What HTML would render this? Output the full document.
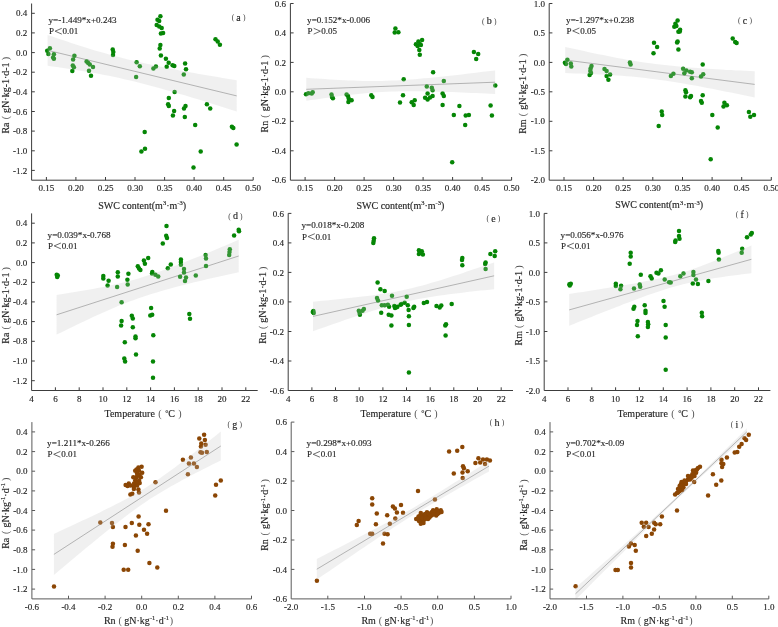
<!DOCTYPE html><html><head><meta charset="utf-8"><style>html,body{margin:0;padding:0;background:#fff;overflow:hidden;}svg{display:block;will-change:transform;}text{font-family:"Liberation Serif",serif;fill:#262626;stroke:#262626;stroke-width:0.15px;}</style></head><body>
<svg width="778" height="627" viewBox="0 0 778 627">
<line x1="47.6" y1="50.3" x2="236.7" y2="95.9" stroke="#8a8a8a" stroke-width="0.7"/>
<g><circle cx="47.2" cy="50.7" r="2.25" fill="#058605"/><circle cx="49.9" cy="48.2" r="2.25" fill="#058605"/><circle cx="48.4" cy="53.9" r="2.25" fill="#058605"/><circle cx="53.9" cy="54.3" r="2.25" fill="#058605"/><circle cx="53.9" cy="58.7" r="2.25" fill="#058605"/><circle cx="53.1" cy="57.4" r="2.25" fill="#058605"/><circle cx="74.4" cy="55.8" r="2.25" fill="#058605"/><circle cx="73.1" cy="59.4" r="2.25" fill="#058605"/><circle cx="72.8" cy="65.4" r="2.25" fill="#058605"/><circle cx="73.9" cy="67.3" r="2.25" fill="#058605"/><circle cx="72.3" cy="71.0" r="2.25" fill="#058605"/><circle cx="86.6" cy="61.4" r="2.25" fill="#058605"/><circle cx="88.2" cy="63.0" r="2.25" fill="#058605"/><circle cx="89.8" cy="64.6" r="2.25" fill="#058605"/><circle cx="93.0" cy="67.0" r="2.25" fill="#058605"/><circle cx="89.0" cy="70.7" r="2.25" fill="#058605"/><circle cx="91.0" cy="75.8" r="2.25" fill="#058605"/><circle cx="112.7" cy="49.5" r="2.25" fill="#058605"/><circle cx="113.3" cy="51.9" r="2.25" fill="#058605"/><circle cx="113.0" cy="55.0" r="2.25" fill="#058605"/><circle cx="136.6" cy="62.2" r="2.25" fill="#058605"/><circle cx="139.8" cy="66.2" r="2.25" fill="#058605"/><circle cx="136.1" cy="76.9" r="2.25" fill="#058605"/><circle cx="160.4" cy="16.2" r="2.25" fill="#058605"/><circle cx="157.5" cy="19.7" r="2.25" fill="#058605"/><circle cx="159.2" cy="20.9" r="2.25" fill="#058605"/><circle cx="156.7" cy="25.1" r="2.25" fill="#058605"/><circle cx="159.2" cy="26.4" r="2.25" fill="#058605"/><circle cx="161.7" cy="28.1" r="2.25" fill="#058605"/><circle cx="160.9" cy="33.4" r="2.25" fill="#058605"/><circle cx="163.1" cy="33.1" r="2.25" fill="#058605"/><circle cx="160.4" cy="45.1" r="2.25" fill="#058605"/><circle cx="159.7" cy="48.5" r="2.25" fill="#058605"/><circle cx="160.9" cy="55.6" r="2.25" fill="#058605"/><circle cx="165.9" cy="58.8" r="2.25" fill="#058605"/><circle cx="168.7" cy="62.7" r="2.25" fill="#058605"/><circle cx="166.7" cy="66.8" r="2.25" fill="#058605"/><circle cx="172.6" cy="65.2" r="2.25" fill="#058605"/><circle cx="174.3" cy="66.0" r="2.25" fill="#058605"/><circle cx="185.1" cy="63.5" r="2.25" fill="#058605"/><circle cx="186.0" cy="69.3" r="2.25" fill="#058605"/><circle cx="183.8" cy="74.4" r="2.25" fill="#058605"/><circle cx="155.9" cy="66.5" r="2.25" fill="#058605"/><circle cx="153.4" cy="68.5" r="2.25" fill="#058605"/><circle cx="215.5" cy="39.3" r="2.25" fill="#058605"/><circle cx="217.7" cy="41.4" r="2.25" fill="#058605"/><circle cx="219.9" cy="44.8" r="2.25" fill="#058605"/><circle cx="174.6" cy="92.0" r="2.25" fill="#058605"/><circle cx="168.8" cy="97.9" r="2.25" fill="#058605"/><circle cx="168.1" cy="104.2" r="2.25" fill="#058605"/><circle cx="168.8" cy="105.9" r="2.25" fill="#058605"/><circle cx="174.1" cy="110.9" r="2.25" fill="#058605"/><circle cx="172.9" cy="115.4" r="2.25" fill="#058605"/><circle cx="185.5" cy="105.9" r="2.25" fill="#058605"/><circle cx="184.0" cy="108.4" r="2.25" fill="#058605"/><circle cx="184.8" cy="117.1" r="2.25" fill="#058605"/><circle cx="206.9" cy="104.2" r="2.25" fill="#058605"/><circle cx="210.2" cy="108.4" r="2.25" fill="#058605"/><circle cx="195.2" cy="125.1" r="2.25" fill="#058605"/><circle cx="231.9" cy="126.8" r="2.25" fill="#058605"/><circle cx="233.3" cy="128.1" r="2.25" fill="#058605"/><circle cx="236.6" cy="144.5" r="2.25" fill="#058605"/><circle cx="144.7" cy="132.1" r="2.25" fill="#058605"/><circle cx="145.0" cy="148.8" r="2.25" fill="#058605"/><circle cx="141.4" cy="151.5" r="2.25" fill="#058605"/><circle cx="200.7" cy="151.5" r="2.25" fill="#058605"/><circle cx="193.5" cy="167.6" r="2.25" fill="#058605"/></g>
<path d="M47.6,34.9 L52.3,36.6 L57.0,38.2 L61.7,39.8 L66.5,41.3 L71.2,42.9 L75.9,44.4 L80.6,46.0 L85.4,47.5 L90.1,48.9 L94.8,50.4 L99.6,51.8 L104.3,53.1 L109.0,54.5 L113.7,55.7 L118.5,57.0 L123.2,58.2 L127.9,59.4 L132.6,60.5 L137.4,61.6 L142.1,62.7 L146.8,63.8 L151.6,64.8 L156.3,65.8 L161.0,66.8 L165.7,67.7 L170.5,68.7 L175.2,69.6 L179.9,70.5 L184.7,71.4 L189.4,72.2 L194.1,73.1 L198.8,73.9 L203.6,74.7 L208.3,75.5 L213.0,76.3 L217.7,77.1 L222.5,77.9 L227.2,78.7 L231.9,79.4 L236.7,80.2 L236.7,111.6 L231.9,110.0 L227.2,108.5 L222.5,107.0 L217.7,105.5 L213.0,104.0 L208.3,102.5 L203.6,101.1 L198.8,99.6 L194.1,98.2 L189.4,96.8 L184.7,95.3 L179.9,93.9 L175.2,92.6 L170.5,91.2 L165.7,89.9 L161.0,88.6 L156.3,87.3 L151.6,86.0 L146.8,84.7 L142.1,83.5 L137.4,82.3 L132.6,81.1 L127.9,80.0 L123.2,78.9 L118.5,77.8 L113.7,76.8 L109.0,75.8 L104.3,74.9 L99.6,74.0 L94.8,73.1 L90.1,72.3 L85.4,71.5 L80.6,70.7 L75.9,69.9 L71.2,69.2 L66.5,68.5 L61.7,67.8 L57.0,67.1 L52.3,66.4 L47.6,65.8 Z" fill="#c3c3c3" fill-opacity="0.25"/>
<path d="M31.6,3.5 V180.2 H253.2" fill="none" stroke="#3c3c3c" stroke-width="1.0"/>
<line x1="46.4" y1="180.2" x2="46.4" y2="177.0" stroke="#3c3c3c" stroke-width="1"/>
<text x="46.4" y="191.2" font-size="9" text-anchor="middle">0.15</text>
<line x1="75.9" y1="180.2" x2="75.9" y2="177.0" stroke="#3c3c3c" stroke-width="1"/>
<text x="75.9" y="191.2" font-size="9" text-anchor="middle">0.20</text>
<line x1="105.5" y1="180.2" x2="105.5" y2="177.0" stroke="#3c3c3c" stroke-width="1"/>
<text x="105.5" y="191.2" font-size="9" text-anchor="middle">0.25</text>
<line x1="135.0" y1="180.2" x2="135.0" y2="177.0" stroke="#3c3c3c" stroke-width="1"/>
<text x="135.0" y="191.2" font-size="9" text-anchor="middle">0.30</text>
<line x1="164.6" y1="180.2" x2="164.6" y2="177.0" stroke="#3c3c3c" stroke-width="1"/>
<text x="164.6" y="191.2" font-size="9" text-anchor="middle">0.35</text>
<line x1="194.1" y1="180.2" x2="194.1" y2="177.0" stroke="#3c3c3c" stroke-width="1"/>
<text x="194.1" y="191.2" font-size="9" text-anchor="middle">0.40</text>
<line x1="223.7" y1="180.2" x2="223.7" y2="177.0" stroke="#3c3c3c" stroke-width="1"/>
<text x="223.7" y="191.2" font-size="9" text-anchor="middle">0.45</text>
<line x1="253.2" y1="180.2" x2="253.2" y2="177.0" stroke="#3c3c3c" stroke-width="1"/>
<text x="253.2" y="191.2" font-size="9" text-anchor="middle">0.50</text>
<line x1="31.6" y1="170.4" x2="34.8" y2="170.4" stroke="#3c3c3c" stroke-width="1"/>
<text x="27.3" y="173.5" font-size="9" text-anchor="end">-1.2</text>
<line x1="31.6" y1="150.8" x2="34.8" y2="150.8" stroke="#3c3c3c" stroke-width="1"/>
<text x="27.3" y="153.8" font-size="9" text-anchor="end">-1.0</text>
<line x1="31.6" y1="131.1" x2="34.8" y2="131.1" stroke="#3c3c3c" stroke-width="1"/>
<text x="27.3" y="134.2" font-size="9" text-anchor="end">-0.8</text>
<line x1="31.6" y1="111.5" x2="34.8" y2="111.5" stroke="#3c3c3c" stroke-width="1"/>
<text x="27.3" y="114.6" font-size="9" text-anchor="end">-0.6</text>
<line x1="31.6" y1="91.8" x2="34.8" y2="91.8" stroke="#3c3c3c" stroke-width="1"/>
<text x="27.3" y="94.9" font-size="9" text-anchor="end">-0.4</text>
<line x1="31.6" y1="72.2" x2="34.8" y2="72.2" stroke="#3c3c3c" stroke-width="1"/>
<text x="27.3" y="75.3" font-size="9" text-anchor="end">-0.2</text>
<line x1="31.6" y1="52.6" x2="34.8" y2="52.6" stroke="#3c3c3c" stroke-width="1"/>
<text x="27.3" y="55.7" font-size="9" text-anchor="end">0.0</text>
<line x1="31.6" y1="32.9" x2="34.8" y2="32.9" stroke="#3c3c3c" stroke-width="1"/>
<text x="27.3" y="36.0" font-size="9" text-anchor="end">0.2</text>
<line x1="31.6" y1="13.3" x2="34.8" y2="13.3" stroke="#3c3c3c" stroke-width="1"/>
<text x="27.3" y="16.4" font-size="9" text-anchor="end">0.4</text>
<text x="98.2" y="208.5" font-size="10">SWC content(m<tspan font-size="6.5" dy="-3.6">3</tspan><tspan dy="3.6">·m</tspan><tspan font-size="6.5" dy="-3.6">-3</tspan><tspan dy="3.6">)</tspan></text>
<text transform="translate(8.7,95.2) rotate(-90)" font-size="10" text-anchor="middle">Ra<tspan dx="3.1" style="fill:#505050;stroke:none">(</tspan><tspan dx="3.1">gN·kg-1·d-1</tspan><tspan dx="2.2" style="fill:#505050;stroke:none">)</tspan></text>
<text x="48.5" y="22.5" font-size="9.15">y=-1.449*x+0.243</text>
<text x="48.9" y="34.3" font-size="9">P</text>
<path d="M61.8,28.3 L55.1,31.2 L61.8,34.1" fill="none" stroke="#3a3a3a" stroke-width="0.75"/>
<text x="62.6" y="34.3" font-size="9">0.01</text>
<text x="238.6" y="20.7" font-size="10" text-anchor="middle"><tspan font-size="7.6" dy="-0.6" style="fill:#404040;stroke:none">(</tspan><tspan dx="2.2" dy="0.6">a</tspan><tspan dx="2.2" dy="-0.6" font-size="7.6" style="fill:#404040;stroke:none">)</tspan></text>
<line x1="306.3" y1="89.3" x2="495.1" y2="82.2" stroke="#8a8a8a" stroke-width="0.7"/>
<g><circle cx="306.0" cy="94.2" r="2.25" fill="#058605"/><circle cx="308.4" cy="93.2" r="2.25" fill="#058605"/><circle cx="311.7" cy="93.6" r="2.25" fill="#058605"/><circle cx="312.7" cy="92.2" r="2.25" fill="#058605"/><circle cx="331.5" cy="94.6" r="2.25" fill="#058605"/><circle cx="332.0" cy="97.0" r="2.25" fill="#058605"/><circle cx="332.9" cy="98.2" r="2.25" fill="#058605"/><circle cx="346.6" cy="94.6" r="2.25" fill="#058605"/><circle cx="348.0" cy="96.1" r="2.25" fill="#058605"/><circle cx="348.7" cy="98.5" r="2.25" fill="#058605"/><circle cx="351.6" cy="100.3" r="2.25" fill="#058605"/><circle cx="348.4" cy="102.1" r="2.25" fill="#058605"/><circle cx="371.3" cy="95.3" r="2.25" fill="#058605"/><circle cx="372.5" cy="97.0" r="2.25" fill="#058605"/><circle cx="395.4" cy="28.4" r="2.25" fill="#058605"/><circle cx="394.7" cy="32.5" r="2.25" fill="#058605"/><circle cx="398.4" cy="32.2" r="2.25" fill="#058605"/><circle cx="422.1" cy="40.1" r="2.25" fill="#058605"/><circle cx="418.4" cy="41.4" r="2.25" fill="#058605"/><circle cx="415.9" cy="44.2" r="2.25" fill="#058605"/><circle cx="420.1" cy="44.2" r="2.25" fill="#058605"/><circle cx="417.6" cy="45.9" r="2.25" fill="#058605"/><circle cx="420.9" cy="45.1" r="2.25" fill="#058605"/><circle cx="419.3" cy="50.1" r="2.25" fill="#058605"/><circle cx="419.8" cy="54.8" r="2.25" fill="#058605"/><circle cx="473.9" cy="52.1" r="2.25" fill="#058605"/><circle cx="478.2" cy="53.9" r="2.25" fill="#058605"/><circle cx="476.2" cy="59.0" r="2.25" fill="#058605"/><circle cx="433.1" cy="72.3" r="2.25" fill="#058605"/><circle cx="403.7" cy="79.3" r="2.25" fill="#058605"/><circle cx="443.8" cy="81.0" r="2.25" fill="#058605"/><circle cx="426.8" cy="86.5" r="2.25" fill="#058605"/><circle cx="431.8" cy="87.7" r="2.25" fill="#058605"/><circle cx="432.6" cy="90.2" r="2.25" fill="#058605"/><circle cx="495.3" cy="85.5" r="2.25" fill="#058605"/><circle cx="403.0" cy="95.2" r="2.25" fill="#058605"/><circle cx="400.0" cy="102.6" r="2.25" fill="#058605"/><circle cx="411.7" cy="102.2" r="2.25" fill="#058605"/><circle cx="414.7" cy="100.2" r="2.25" fill="#058605"/><circle cx="413.7" cy="104.9" r="2.25" fill="#058605"/><circle cx="427.6" cy="93.5" r="2.25" fill="#058605"/><circle cx="425.1" cy="97.7" r="2.25" fill="#058605"/><circle cx="427.6" cy="99.4" r="2.25" fill="#058605"/><circle cx="432.6" cy="96.0" r="2.25" fill="#058605"/><circle cx="430.0" cy="97.5" r="2.25" fill="#058605"/><circle cx="442.6" cy="93.5" r="2.25" fill="#058605"/><circle cx="443.8" cy="96.0" r="2.25" fill="#058605"/><circle cx="442.6" cy="104.9" r="2.25" fill="#058605"/><circle cx="459.4" cy="106.1" r="2.25" fill="#058605"/><circle cx="490.6" cy="105.6" r="2.25" fill="#058605"/><circle cx="453.8" cy="115.1" r="2.25" fill="#058605"/><circle cx="465.7" cy="115.4" r="2.25" fill="#058605"/><circle cx="468.9" cy="115.1" r="2.25" fill="#058605"/><circle cx="491.9" cy="115.4" r="2.25" fill="#058605"/><circle cx="465.2" cy="125.1" r="2.25" fill="#058605"/><circle cx="452.2" cy="162.2" r="2.25" fill="#058605"/></g>
<path d="M306.3,77.8 L311.0,78.2 L315.8,78.5 L320.5,78.8 L325.2,79.1 L329.9,79.4 L334.6,79.7 L339.4,80.0 L344.1,80.2 L348.8,80.4 L353.5,80.6 L358.2,80.8 L363.0,80.9 L367.7,81.0 L372.4,81.1 L377.1,81.0 L381.8,81.0 L386.5,80.8 L391.3,80.6 L396.0,80.4 L400.7,80.2 L405.4,79.9 L410.1,79.5 L414.9,79.2 L419.6,78.8 L424.3,78.3 L429.0,77.9 L433.7,77.4 L438.5,77.0 L443.2,76.5 L447.9,76.0 L452.6,75.4 L457.3,74.9 L462.1,74.4 L466.8,73.8 L471.5,73.3 L476.2,72.7 L480.9,72.1 L485.6,71.6 L490.4,71.0 L495.1,70.4 L495.1,93.9 L490.4,93.7 L485.6,93.5 L480.9,93.3 L476.2,93.1 L471.5,92.9 L466.8,92.7 L462.1,92.5 L457.3,92.3 L452.6,92.1 L447.9,92.0 L443.2,91.8 L438.5,91.7 L433.7,91.5 L429.0,91.4 L424.3,91.4 L419.6,91.3 L414.9,91.3 L410.1,91.3 L405.4,91.3 L400.7,91.3 L396.0,91.4 L391.3,91.6 L386.5,91.7 L381.8,92.0 L377.1,92.3 L372.4,92.6 L367.7,93.0 L363.0,93.4 L358.2,93.9 L353.5,94.5 L348.8,95.0 L344.1,95.6 L339.4,96.2 L334.6,96.8 L329.9,97.4 L325.2,98.1 L320.5,98.8 L315.8,99.4 L311.0,100.1 L306.3,100.8 Z" fill="#c3c3c3" fill-opacity="0.25"/>
<path d="M290.4,3.5 V180.2 H511.6" fill="none" stroke="#3c3c3c" stroke-width="1.0"/>
<line x1="305.1" y1="180.2" x2="305.1" y2="177.0" stroke="#3c3c3c" stroke-width="1"/>
<text x="305.1" y="191.2" font-size="9" text-anchor="middle">0.15</text>
<line x1="334.6" y1="180.2" x2="334.6" y2="177.0" stroke="#3c3c3c" stroke-width="1"/>
<text x="334.6" y="191.2" font-size="9" text-anchor="middle">0.20</text>
<line x1="364.1" y1="180.2" x2="364.1" y2="177.0" stroke="#3c3c3c" stroke-width="1"/>
<text x="364.1" y="191.2" font-size="9" text-anchor="middle">0.25</text>
<line x1="393.6" y1="180.2" x2="393.6" y2="177.0" stroke="#3c3c3c" stroke-width="1"/>
<text x="393.6" y="191.2" font-size="9" text-anchor="middle">0.30</text>
<line x1="423.1" y1="180.2" x2="423.1" y2="177.0" stroke="#3c3c3c" stroke-width="1"/>
<text x="423.1" y="191.2" font-size="9" text-anchor="middle">0.35</text>
<line x1="452.6" y1="180.2" x2="452.6" y2="177.0" stroke="#3c3c3c" stroke-width="1"/>
<text x="452.6" y="191.2" font-size="9" text-anchor="middle">0.40</text>
<line x1="482.1" y1="180.2" x2="482.1" y2="177.0" stroke="#3c3c3c" stroke-width="1"/>
<text x="482.1" y="191.2" font-size="9" text-anchor="middle">0.45</text>
<line x1="511.6" y1="180.2" x2="511.6" y2="177.0" stroke="#3c3c3c" stroke-width="1"/>
<text x="511.6" y="191.2" font-size="9" text-anchor="middle">0.50</text>
<text x="286.1" y="183.3" font-size="9" text-anchor="end">-0.6</text>
<line x1="290.4" y1="150.8" x2="293.6" y2="150.8" stroke="#3c3c3c" stroke-width="1"/>
<text x="286.1" y="153.8" font-size="9" text-anchor="end">-0.4</text>
<line x1="290.4" y1="121.3" x2="293.6" y2="121.3" stroke="#3c3c3c" stroke-width="1"/>
<text x="286.1" y="124.4" font-size="9" text-anchor="end">-0.2</text>
<line x1="290.4" y1="91.8" x2="293.6" y2="91.8" stroke="#3c3c3c" stroke-width="1"/>
<text x="286.1" y="94.9" font-size="9" text-anchor="end">0.0</text>
<line x1="290.4" y1="62.4" x2="293.6" y2="62.4" stroke="#3c3c3c" stroke-width="1"/>
<text x="286.1" y="65.5" font-size="9" text-anchor="end">0.2</text>
<line x1="290.4" y1="32.9" x2="293.6" y2="32.9" stroke="#3c3c3c" stroke-width="1"/>
<text x="286.1" y="36.0" font-size="9" text-anchor="end">0.4</text>
<line x1="290.4" y1="3.5" x2="293.6" y2="3.5" stroke="#3c3c3c" stroke-width="1"/>
<text x="286.1" y="6.6" font-size="9" text-anchor="end">0.6</text>
<text x="356.5" y="208.5" font-size="10">SWC content(m<tspan font-size="6.5" dy="-3.6">3</tspan><tspan dy="3.6">·m</tspan><tspan font-size="6.5" dy="-3.6">-3</tspan><tspan dy="3.6">)</tspan></text>
<text transform="translate(267.7,93.8) rotate(-90)" font-size="10" text-anchor="middle">Rn<tspan dx="3.1" style="fill:#505050;stroke:none">(</tspan><tspan dx="3.1">gN·kg-1·d-1</tspan><tspan dx="2.2" style="fill:#505050;stroke:none">)</tspan></text>
<text x="307.1" y="23.0" font-size="9.15">y=0.152*x-0.006</text>
<text x="307.5" y="34.3" font-size="9">P</text>
<path d="M313.7,28.3 L320.4,31.2 L313.7,34.1" fill="none" stroke="#3a3a3a" stroke-width="0.75"/>
<text x="321.2" y="34.3" font-size="9">0.05</text>
<text x="489.3" y="24.4" font-size="10" text-anchor="middle"><tspan font-size="7.6" dy="-0.6" style="fill:#404040;stroke:none">(</tspan><tspan dx="2.2" dy="0.6">b</tspan><tspan dx="2.2" dy="-0.6" font-size="7.6" style="fill:#404040;stroke:none">)</tspan></text>
<line x1="565.2" y1="60.0" x2="754.7" y2="84.4" stroke="#8a8a8a" stroke-width="0.7"/>
<g><circle cx="564.9" cy="62.8" r="2.25" fill="#058605"/><circle cx="567.4" cy="59.7" r="2.25" fill="#058605"/><circle cx="566.0" cy="63.9" r="2.25" fill="#058605"/><circle cx="570.8" cy="63.6" r="2.25" fill="#058605"/><circle cx="571.3" cy="66.5" r="2.25" fill="#058605"/><circle cx="591.5" cy="66.1" r="2.25" fill="#058605"/><circle cx="590.6" cy="68.5" r="2.25" fill="#058605"/><circle cx="590.3" cy="71.0" r="2.25" fill="#058605"/><circle cx="591.0" cy="73.1" r="2.25" fill="#058605"/><circle cx="589.6" cy="75.0" r="2.25" fill="#058605"/><circle cx="604.5" cy="68.9" r="2.25" fill="#058605"/><circle cx="606.6" cy="71.0" r="2.25" fill="#058605"/><circle cx="610.1" cy="74.5" r="2.25" fill="#058605"/><circle cx="606.6" cy="76.0" r="2.25" fill="#058605"/><circle cx="608.4" cy="79.8" r="2.25" fill="#058605"/><circle cx="629.9" cy="62.5" r="2.25" fill="#058605"/><circle cx="630.6" cy="64.6" r="2.25" fill="#058605"/><circle cx="654.0" cy="42.7" r="2.25" fill="#058605"/><circle cx="657.1" cy="47.0" r="2.25" fill="#058605"/><circle cx="653.5" cy="53.3" r="2.25" fill="#058605"/><circle cx="677.6" cy="20.4" r="2.25" fill="#058605"/><circle cx="675.4" cy="23.7" r="2.25" fill="#058605"/><circle cx="674.3" cy="26.7" r="2.25" fill="#058605"/><circle cx="676.4" cy="25.9" r="2.25" fill="#058605"/><circle cx="680.1" cy="29.7" r="2.25" fill="#058605"/><circle cx="678.4" cy="31.7" r="2.25" fill="#058605"/><circle cx="679.8" cy="31.4" r="2.25" fill="#058605"/><circle cx="677.6" cy="41.4" r="2.25" fill="#058605"/><circle cx="677.1" cy="42.6" r="2.25" fill="#058605"/><circle cx="678.4" cy="49.6" r="2.25" fill="#058605"/><circle cx="732.7" cy="38.4" r="2.25" fill="#058605"/><circle cx="735.2" cy="42.1" r="2.25" fill="#058605"/><circle cx="736.6" cy="42.9" r="2.25" fill="#058605"/><circle cx="702.7" cy="64.6" r="2.25" fill="#058605"/><circle cx="683.1" cy="68.8" r="2.25" fill="#058605"/><circle cx="686.4" cy="70.5" r="2.25" fill="#058605"/><circle cx="690.1" cy="71.8" r="2.25" fill="#058605"/><circle cx="691.8" cy="72.2" r="2.25" fill="#058605"/><circle cx="684.3" cy="73.2" r="2.25" fill="#058605"/><circle cx="691.8" cy="78.2" r="2.25" fill="#058605"/><circle cx="673.4" cy="73.8" r="2.25" fill="#058605"/><circle cx="670.9" cy="76.0" r="2.25" fill="#058605"/><circle cx="703.2" cy="74.3" r="2.25" fill="#058605"/><circle cx="701.0" cy="76.5" r="2.25" fill="#058605"/><circle cx="685.4" cy="90.2" r="2.25" fill="#058605"/><circle cx="686.0" cy="92.2" r="2.25" fill="#058605"/><circle cx="685.4" cy="96.6" r="2.25" fill="#058605"/><circle cx="690.1" cy="97.2" r="2.25" fill="#058605"/><circle cx="691.0" cy="96.0" r="2.25" fill="#058605"/><circle cx="702.7" cy="95.2" r="2.25" fill="#058605"/><circle cx="701.0" cy="101.1" r="2.25" fill="#058605"/><circle cx="701.8" cy="102.7" r="2.25" fill="#058605"/><circle cx="724.4" cy="102.7" r="2.25" fill="#058605"/><circle cx="726.9" cy="105.2" r="2.25" fill="#058605"/><circle cx="723.5" cy="106.6" r="2.25" fill="#058605"/><circle cx="661.7" cy="111.4" r="2.25" fill="#058605"/><circle cx="662.2" cy="115.1" r="2.25" fill="#058605"/><circle cx="658.7" cy="125.9" r="2.25" fill="#058605"/><circle cx="712.3" cy="115.1" r="2.25" fill="#058605"/><circle cx="717.7" cy="127.6" r="2.25" fill="#058605"/><circle cx="748.9" cy="112.1" r="2.25" fill="#058605"/><circle cx="750.3" cy="116.7" r="2.25" fill="#058605"/><circle cx="754.0" cy="115.1" r="2.25" fill="#058605"/><circle cx="710.7" cy="159.3" r="2.25" fill="#058605"/></g>
<path d="M565.2,46.9 L569.9,48.0 L574.7,49.1 L579.4,50.1 L584.1,51.1 L588.9,52.2 L593.6,53.2 L598.4,54.2 L603.1,55.1 L607.8,56.1 L612.6,57.0 L617.3,57.9 L622.0,58.8 L626.8,59.7 L631.5,60.5 L636.3,61.2 L641.0,62.0 L645.7,62.7 L650.5,63.3 L655.2,63.9 L660.0,64.5 L664.7,65.1 L669.4,65.6 L674.2,66.1 L678.9,66.5 L683.6,67.0 L688.4,67.4 L693.1,67.7 L697.9,68.1 L702.6,68.4 L707.3,68.8 L712.1,69.1 L716.8,69.3 L721.5,69.6 L726.3,69.9 L731.0,70.1 L735.8,70.4 L740.5,70.6 L745.2,70.8 L750.0,71.0 L754.7,71.2 L754.7,97.6 L750.0,96.6 L745.2,95.6 L740.5,94.6 L735.8,93.6 L731.0,92.6 L726.3,91.7 L721.5,90.7 L716.8,89.8 L712.1,88.8 L707.3,87.9 L702.6,87.0 L697.9,86.1 L693.1,85.3 L688.4,84.4 L683.6,83.6 L678.9,82.8 L674.2,82.0 L669.4,81.3 L664.7,80.6 L660.0,79.9 L655.2,79.3 L650.5,78.7 L645.7,78.1 L641.0,77.6 L636.3,77.1 L631.5,76.6 L626.8,76.2 L622.0,75.8 L617.3,75.5 L612.6,75.2 L607.8,74.9 L603.1,74.6 L598.4,74.4 L593.6,74.1 L588.9,73.9 L584.1,73.7 L579.4,73.6 L574.7,73.4 L569.9,73.2 L565.2,73.1 Z" fill="#c3c3c3" fill-opacity="0.25"/>
<path d="M549.2,3.5 V180.2 H771.3" fill="none" stroke="#3c3c3c" stroke-width="1.0"/>
<line x1="564.0" y1="180.2" x2="564.0" y2="177.0" stroke="#3c3c3c" stroke-width="1"/>
<text x="564.0" y="191.2" font-size="9" text-anchor="middle">0.15</text>
<line x1="593.6" y1="180.2" x2="593.6" y2="177.0" stroke="#3c3c3c" stroke-width="1"/>
<text x="593.6" y="191.2" font-size="9" text-anchor="middle">0.20</text>
<line x1="623.2" y1="180.2" x2="623.2" y2="177.0" stroke="#3c3c3c" stroke-width="1"/>
<text x="623.2" y="191.2" font-size="9" text-anchor="middle">0.25</text>
<line x1="652.8" y1="180.2" x2="652.8" y2="177.0" stroke="#3c3c3c" stroke-width="1"/>
<text x="652.8" y="191.2" font-size="9" text-anchor="middle">0.30</text>
<line x1="682.5" y1="180.2" x2="682.5" y2="177.0" stroke="#3c3c3c" stroke-width="1"/>
<text x="682.5" y="191.2" font-size="9" text-anchor="middle">0.35</text>
<line x1="712.1" y1="180.2" x2="712.1" y2="177.0" stroke="#3c3c3c" stroke-width="1"/>
<text x="712.1" y="191.2" font-size="9" text-anchor="middle">0.40</text>
<line x1="741.7" y1="180.2" x2="741.7" y2="177.0" stroke="#3c3c3c" stroke-width="1"/>
<text x="741.7" y="191.2" font-size="9" text-anchor="middle">0.45</text>
<line x1="771.3" y1="180.2" x2="771.3" y2="177.0" stroke="#3c3c3c" stroke-width="1"/>
<text x="771.3" y="191.2" font-size="9" text-anchor="middle">0.50</text>
<text x="544.9" y="183.3" font-size="9" text-anchor="end">-2.0</text>
<line x1="549.2" y1="150.8" x2="552.4" y2="150.8" stroke="#3c3c3c" stroke-width="1"/>
<text x="544.9" y="153.8" font-size="9" text-anchor="end">-1.5</text>
<line x1="549.2" y1="121.3" x2="552.4" y2="121.3" stroke="#3c3c3c" stroke-width="1"/>
<text x="544.9" y="124.4" font-size="9" text-anchor="end">-1.0</text>
<line x1="549.2" y1="91.8" x2="552.4" y2="91.8" stroke="#3c3c3c" stroke-width="1"/>
<text x="544.9" y="94.9" font-size="9" text-anchor="end">-0.5</text>
<line x1="549.2" y1="62.4" x2="552.4" y2="62.4" stroke="#3c3c3c" stroke-width="1"/>
<text x="544.9" y="65.5" font-size="9" text-anchor="end">0.0</text>
<line x1="549.2" y1="32.9" x2="552.4" y2="32.9" stroke="#3c3c3c" stroke-width="1"/>
<text x="544.9" y="36.0" font-size="9" text-anchor="end">0.5</text>
<line x1="549.2" y1="3.5" x2="552.4" y2="3.5" stroke="#3c3c3c" stroke-width="1"/>
<text x="544.9" y="6.6" font-size="9" text-anchor="end">1.0</text>
<text x="615.2" y="208.3" font-size="10">SWC content(m<tspan font-size="6.5" dy="-3.6">3</tspan><tspan dy="3.6">·m</tspan><tspan font-size="6.5" dy="-3.6">-3</tspan><tspan dy="3.6">)</tspan></text>
<text transform="translate(526.2,93.8) rotate(-90)" font-size="10" text-anchor="middle">Rm<tspan dx="3.1" style="fill:#505050;stroke:none">(</tspan><tspan dx="3.1">gN·kg-1·d-1</tspan><tspan dx="2.2" style="fill:#505050;stroke:none">)</tspan></text>
<text x="566.1" y="22.7" font-size="9.15">y=-1.297*x+0.238</text>
<text x="566.5" y="34.0" font-size="9">P</text>
<path d="M579.4,28.0 L572.7,30.9 L579.4,33.8" fill="none" stroke="#3a3a3a" stroke-width="0.75"/>
<text x="580.2" y="34.0" font-size="9">0.05</text>
<text x="745.0" y="23.8" font-size="10" text-anchor="middle"><tspan font-size="7.6" dy="-0.6" style="fill:#404040;stroke:none">(</tspan><tspan dx="2.2" dy="0.6">c</tspan><tspan dx="2.2" dy="-0.6" font-size="7.6" style="fill:#404040;stroke:none">)</tspan></text>
<line x1="56.6" y1="314.8" x2="238.7" y2="256.0" stroke="#8a8a8a" stroke-width="0.7"/>
<g><circle cx="56.7" cy="274.7" r="2.25" fill="#058605"/><circle cx="57.2" cy="276.9" r="2.25" fill="#058605"/><circle cx="57.8" cy="275.5" r="2.25" fill="#058605"/><circle cx="103.3" cy="276.1" r="2.25" fill="#058605"/><circle cx="103.3" cy="278.6" r="2.25" fill="#058605"/><circle cx="108.6" cy="280.7" r="2.25" fill="#058605"/><circle cx="107.6" cy="285.4" r="2.25" fill="#058605"/><circle cx="117.8" cy="272.3" r="2.25" fill="#058605"/><circle cx="117.8" cy="276.5" r="2.25" fill="#058605"/><circle cx="117.1" cy="287.1" r="2.25" fill="#058605"/><circle cx="128.4" cy="273.7" r="2.25" fill="#058605"/><circle cx="127.4" cy="279.8" r="2.25" fill="#058605"/><circle cx="127.7" cy="284.6" r="2.25" fill="#058605"/><circle cx="137.8" cy="266.2" r="2.25" fill="#058605"/><circle cx="139.0" cy="268.4" r="2.25" fill="#058605"/><circle cx="140.4" cy="269.9" r="2.25" fill="#058605"/><circle cx="143.9" cy="260.5" r="2.25" fill="#058605"/><circle cx="144.9" cy="263.8" r="2.25" fill="#058605"/><circle cx="148.2" cy="258.1" r="2.25" fill="#058605"/><circle cx="166.5" cy="226.1" r="2.25" fill="#058605"/><circle cx="166.2" cy="235.8" r="2.25" fill="#058605"/><circle cx="167.0" cy="238.1" r="2.25" fill="#058605"/><circle cx="162.8" cy="243.5" r="2.25" fill="#058605"/><circle cx="152.3" cy="272.1" r="2.25" fill="#058605"/><circle cx="152.0" cy="273.6" r="2.25" fill="#058605"/><circle cx="155.4" cy="274.8" r="2.25" fill="#058605"/><circle cx="158.2" cy="276.4" r="2.25" fill="#058605"/><circle cx="170.8" cy="264.4" r="2.25" fill="#058605"/><circle cx="167.8" cy="268.2" r="2.25" fill="#058605"/><circle cx="180.9" cy="259.4" r="2.25" fill="#058605"/><circle cx="180.9" cy="262.0" r="2.25" fill="#058605"/><circle cx="180.9" cy="264.7" r="2.25" fill="#058605"/><circle cx="184.0" cy="269.0" r="2.25" fill="#058605"/><circle cx="184.0" cy="272.4" r="2.25" fill="#058605"/><circle cx="180.1" cy="276.7" r="2.25" fill="#058605"/><circle cx="186.0" cy="277.5" r="2.25" fill="#058605"/><circle cx="185.0" cy="281.0" r="2.25" fill="#058605"/><circle cx="195.8" cy="275.5" r="2.25" fill="#058605"/><circle cx="205.6" cy="255.1" r="2.25" fill="#058605"/><circle cx="206.0" cy="258.5" r="2.25" fill="#058605"/><circle cx="206.0" cy="265.9" r="2.25" fill="#058605"/><circle cx="229.8" cy="249.2" r="2.25" fill="#058605"/><circle cx="229.5" cy="252.0" r="2.25" fill="#058605"/><circle cx="229.2" cy="255.1" r="2.25" fill="#058605"/><circle cx="234.1" cy="235.4" r="2.25" fill="#058605"/><circle cx="238.7" cy="229.7" r="2.25" fill="#058605"/><circle cx="239.0" cy="231.2" r="2.25" fill="#058605"/><circle cx="121.6" cy="302.3" r="2.25" fill="#058605"/><circle cx="131.8" cy="315.8" r="2.25" fill="#058605"/><circle cx="132.8" cy="318.4" r="2.25" fill="#058605"/><circle cx="121.6" cy="321.1" r="2.25" fill="#058605"/><circle cx="121.1" cy="325.4" r="2.25" fill="#058605"/><circle cx="132.8" cy="327.2" r="2.25" fill="#058605"/><circle cx="135.5" cy="336.6" r="2.25" fill="#058605"/><circle cx="135.5" cy="338.2" r="2.25" fill="#058605"/><circle cx="124.8" cy="342.3" r="2.25" fill="#058605"/><circle cx="136.0" cy="354.6" r="2.25" fill="#058605"/><circle cx="124.3" cy="358.6" r="2.25" fill="#058605"/><circle cx="125.1" cy="361.5" r="2.25" fill="#058605"/><circle cx="151.1" cy="307.9" r="2.25" fill="#058605"/><circle cx="150.3" cy="315.5" r="2.25" fill="#058605"/><circle cx="152.2" cy="314.7" r="2.25" fill="#058605"/><circle cx="153.3" cy="335.3" r="2.25" fill="#058605"/><circle cx="153.0" cy="361.5" r="2.25" fill="#058605"/><circle cx="153.0" cy="377.8" r="2.25" fill="#058605"/><circle cx="189.3" cy="313.9" r="2.25" fill="#058605"/><circle cx="190.0" cy="318.7" r="2.25" fill="#058605"/></g>
<path d="M56.6,294.9 L61.1,294.2 L65.7,293.5 L70.2,292.7 L74.8,292.0 L79.3,291.3 L83.9,290.5 L88.5,289.7 L93.0,288.9 L97.6,288.0 L102.1,287.2 L106.7,286.3 L111.2,285.3 L115.8,284.3 L120.3,283.3 L124.9,282.2 L129.4,281.0 L134.0,279.7 L138.5,278.4 L143.1,277.0 L147.6,275.5 L152.2,274.0 L156.7,272.5 L161.3,270.9 L165.8,269.3 L170.4,267.6 L174.9,265.9 L179.5,264.2 L184.0,262.4 L188.6,260.6 L193.1,258.8 L197.7,257.0 L202.2,255.2 L206.8,253.3 L211.3,251.4 L215.9,249.5 L220.5,247.6 L225.0,245.7 L229.6,243.7 L234.1,241.8 L238.7,239.8 L238.7,272.3 L234.1,273.3 L229.6,274.2 L225.0,275.2 L220.5,276.2 L215.9,277.3 L211.3,278.3 L206.8,279.3 L202.2,280.4 L197.7,281.5 L193.1,282.6 L188.6,283.7 L184.0,284.9 L179.5,286.1 L174.9,287.3 L170.4,288.5 L165.8,289.8 L161.3,291.1 L156.7,292.4 L152.2,293.8 L147.6,295.2 L143.1,296.7 L138.5,298.2 L134.0,299.9 L129.4,301.5 L124.9,303.3 L120.3,305.1 L115.8,307.0 L111.2,309.0 L106.7,310.9 L102.1,313.0 L97.6,315.0 L93.0,317.1 L88.5,319.2 L83.9,321.4 L79.3,323.6 L74.8,325.7 L70.2,327.9 L65.7,330.2 L61.1,332.4 L56.6,334.6 Z" fill="#c3c3c3" fill-opacity="0.25"/>
<path d="M31.6,213.4 V390.5 H257.7" fill="none" stroke="#3c3c3c" stroke-width="1.0"/>
<text x="31.6" y="401.5" font-size="9" text-anchor="middle">4</text>
<line x1="55.4" y1="390.5" x2="55.4" y2="387.3" stroke="#3c3c3c" stroke-width="1"/>
<text x="55.4" y="401.5" font-size="9" text-anchor="middle">6</text>
<line x1="79.2" y1="390.5" x2="79.2" y2="387.3" stroke="#3c3c3c" stroke-width="1"/>
<text x="79.2" y="401.5" font-size="9" text-anchor="middle">8</text>
<line x1="103.0" y1="390.5" x2="103.0" y2="387.3" stroke="#3c3c3c" stroke-width="1"/>
<text x="103.0" y="401.5" font-size="9" text-anchor="middle">10</text>
<line x1="126.8" y1="390.5" x2="126.8" y2="387.3" stroke="#3c3c3c" stroke-width="1"/>
<text x="126.8" y="401.5" font-size="9" text-anchor="middle">12</text>
<line x1="150.6" y1="390.5" x2="150.6" y2="387.3" stroke="#3c3c3c" stroke-width="1"/>
<text x="150.6" y="401.5" font-size="9" text-anchor="middle">14</text>
<line x1="174.4" y1="390.5" x2="174.4" y2="387.3" stroke="#3c3c3c" stroke-width="1"/>
<text x="174.4" y="401.5" font-size="9" text-anchor="middle">16</text>
<line x1="198.2" y1="390.5" x2="198.2" y2="387.3" stroke="#3c3c3c" stroke-width="1"/>
<text x="198.2" y="401.5" font-size="9" text-anchor="middle">18</text>
<line x1="222.0" y1="390.5" x2="222.0" y2="387.3" stroke="#3c3c3c" stroke-width="1"/>
<text x="222.0" y="401.5" font-size="9" text-anchor="middle">20</text>
<line x1="245.8" y1="390.5" x2="245.8" y2="387.3" stroke="#3c3c3c" stroke-width="1"/>
<text x="245.8" y="401.5" font-size="9" text-anchor="middle">22</text>
<line x1="31.6" y1="380.7" x2="34.8" y2="380.7" stroke="#3c3c3c" stroke-width="1"/>
<text x="27.3" y="383.8" font-size="9" text-anchor="end">-1.2</text>
<line x1="31.6" y1="361.0" x2="34.8" y2="361.0" stroke="#3c3c3c" stroke-width="1"/>
<text x="27.3" y="364.1" font-size="9" text-anchor="end">-1.0</text>
<line x1="31.6" y1="341.3" x2="34.8" y2="341.3" stroke="#3c3c3c" stroke-width="1"/>
<text x="27.3" y="344.4" font-size="9" text-anchor="end">-0.8</text>
<line x1="31.6" y1="321.6" x2="34.8" y2="321.6" stroke="#3c3c3c" stroke-width="1"/>
<text x="27.3" y="324.7" font-size="9" text-anchor="end">-0.6</text>
<line x1="31.6" y1="301.9" x2="34.8" y2="301.9" stroke="#3c3c3c" stroke-width="1"/>
<text x="27.3" y="305.1" font-size="9" text-anchor="end">-0.4</text>
<line x1="31.6" y1="282.3" x2="34.8" y2="282.3" stroke="#3c3c3c" stroke-width="1"/>
<text x="27.3" y="285.4" font-size="9" text-anchor="end">-0.2</text>
<line x1="31.6" y1="262.6" x2="34.8" y2="262.6" stroke="#3c3c3c" stroke-width="1"/>
<text x="27.3" y="265.7" font-size="9" text-anchor="end">0.0</text>
<line x1="31.6" y1="242.9" x2="34.8" y2="242.9" stroke="#3c3c3c" stroke-width="1"/>
<text x="27.3" y="246.0" font-size="9" text-anchor="end">0.2</text>
<line x1="31.6" y1="223.2" x2="34.8" y2="223.2" stroke="#3c3c3c" stroke-width="1"/>
<text x="27.3" y="226.3" font-size="9" text-anchor="end">0.4</text>
<text x="104.5" y="417.2" font-size="10">Temperature<tspan dx="3.3" style="fill:#505050;stroke:none">(</tspan><tspan dx="3.6" font-size="8" dy="-1.2">°</tspan><tspan dy="1.2">C</tspan><tspan dx="3.2" style="fill:#505050;stroke:none">)</tspan></text>
<text transform="translate(9.4,305.4) rotate(-90)" font-size="10" text-anchor="middle">Ra<tspan dx="3.1" style="fill:#505050;stroke:none">(</tspan><tspan dx="3.1">gN·kg-1·d-1</tspan><tspan dx="2.2" style="fill:#505050;stroke:none">)</tspan></text>
<text x="47.6" y="237.6" font-size="9.15">y=0.039*x-0.768</text>
<text x="48.0" y="249.0" font-size="9">P</text>
<path d="M60.9,243.0 L54.2,245.9 L60.9,248.8" fill="none" stroke="#3a3a3a" stroke-width="0.75"/>
<text x="61.7" y="249.0" font-size="9">0.01</text>
<text x="235.4" y="219.3" font-size="10" text-anchor="middle"><tspan font-size="7.6" dy="-0.6" style="fill:#404040;stroke:none">(</tspan><tspan dx="2.2" dy="0.6">d</tspan><tspan dx="2.2" dy="-0.6" font-size="7.6" style="fill:#404040;stroke:none">)</tspan></text>
<line x1="313.0" y1="316.4" x2="494.1" y2="275.8" stroke="#8a8a8a" stroke-width="0.7"/>
<g><circle cx="313.4" cy="311.1" r="2.25" fill="#058605"/><circle cx="313.7" cy="313.0" r="2.25" fill="#058605"/><circle cx="312.8" cy="312.0" r="2.25" fill="#058605"/><circle cx="358.8" cy="310.7" r="2.25" fill="#058605"/><circle cx="359.9" cy="314.7" r="2.25" fill="#058605"/><circle cx="363.9" cy="309.1" r="2.25" fill="#058605"/><circle cx="362.5" cy="310.7" r="2.25" fill="#058605"/><circle cx="359.6" cy="313.0" r="2.25" fill="#058605"/><circle cx="374.0" cy="238.3" r="2.25" fill="#058605"/><circle cx="373.3" cy="242.9" r="2.25" fill="#058605"/><circle cx="373.7" cy="240.8" r="2.25" fill="#058605"/><circle cx="377.6" cy="282.4" r="2.25" fill="#058605"/><circle cx="380.4" cy="289.3" r="2.25" fill="#058605"/><circle cx="384.7" cy="291.0" r="2.25" fill="#058605"/><circle cx="392.0" cy="295.8" r="2.25" fill="#058605"/><circle cx="377.0" cy="298.0" r="2.25" fill="#058605"/><circle cx="378.0" cy="300.4" r="2.25" fill="#058605"/><circle cx="381.8" cy="305.2" r="2.25" fill="#058605"/><circle cx="384.7" cy="305.2" r="2.25" fill="#058605"/><circle cx="387.9" cy="304.7" r="2.25" fill="#058605"/><circle cx="389.1" cy="306.8" r="2.25" fill="#058605"/><circle cx="394.3" cy="306.0" r="2.25" fill="#058605"/><circle cx="395.0" cy="307.9" r="2.25" fill="#058605"/><circle cx="397.4" cy="306.8" r="2.25" fill="#058605"/><circle cx="400.6" cy="304.7" r="2.25" fill="#058605"/><circle cx="404.6" cy="302.8" r="2.25" fill="#058605"/><circle cx="407.8" cy="305.2" r="2.25" fill="#058605"/><circle cx="408.6" cy="310.0" r="2.25" fill="#058605"/><circle cx="414.2" cy="306.8" r="2.25" fill="#058605"/><circle cx="413.4" cy="308.0" r="2.25" fill="#058605"/><circle cx="406.7" cy="296.7" r="2.25" fill="#058605"/><circle cx="381.2" cy="312.7" r="2.25" fill="#058605"/><circle cx="388.7" cy="314.7" r="2.25" fill="#058605"/><circle cx="391.4" cy="315.5" r="2.25" fill="#058605"/><circle cx="391.4" cy="325.4" r="2.25" fill="#058605"/><circle cx="408.9" cy="316.3" r="2.25" fill="#058605"/><circle cx="408.9" cy="325.1" r="2.25" fill="#058605"/><circle cx="408.9" cy="372.5" r="2.25" fill="#058605"/><circle cx="423.8" cy="303.1" r="2.25" fill="#058605"/><circle cx="427.0" cy="302.0" r="2.25" fill="#058605"/><circle cx="436.5" cy="306.0" r="2.25" fill="#058605"/><circle cx="439.7" cy="307.6" r="2.25" fill="#058605"/><circle cx="441.3" cy="305.6" r="2.25" fill="#058605"/><circle cx="451.7" cy="304.0" r="2.25" fill="#058605"/><circle cx="445.3" cy="325.4" r="2.25" fill="#058605"/><circle cx="446.0" cy="324.3" r="2.25" fill="#058605"/><circle cx="445.6" cy="335.5" r="2.25" fill="#058605"/><circle cx="401.4" cy="304.0" r="2.25" fill="#058605"/><circle cx="396.6" cy="307.2" r="2.25" fill="#058605"/><circle cx="418.9" cy="250.2" r="2.25" fill="#058605"/><circle cx="421.8" cy="251.3" r="2.25" fill="#058605"/><circle cx="418.9" cy="254.0" r="2.25" fill="#058605"/><circle cx="422.9" cy="254.5" r="2.25" fill="#058605"/><circle cx="420.5" cy="252.5" r="2.25" fill="#058605"/><circle cx="462.3" cy="258.0" r="2.25" fill="#058605"/><circle cx="462.0" cy="260.1" r="2.25" fill="#058605"/><circle cx="462.3" cy="265.2" r="2.25" fill="#058605"/><circle cx="485.6" cy="262.5" r="2.25" fill="#058605"/><circle cx="485.2" cy="264.1" r="2.25" fill="#058605"/><circle cx="485.6" cy="268.9" r="2.25" fill="#058605"/><circle cx="490.4" cy="254.0" r="2.25" fill="#058605"/><circle cx="495.2" cy="251.3" r="2.25" fill="#058605"/><circle cx="494.7" cy="256.1" r="2.25" fill="#058605"/></g>
<path d="M313.0,301.7 L317.6,301.3 L322.1,300.8 L326.6,300.4 L331.1,300.0 L335.7,299.5 L340.2,299.0 L344.7,298.6 L349.3,298.1 L353.8,297.6 L358.3,297.1 L362.8,296.5 L367.4,296.0 L371.9,295.4 L376.4,294.8 L380.9,294.1 L385.5,293.4 L390.0,292.7 L394.5,291.9 L399.0,291.0 L403.6,290.1 L408.1,289.0 L412.6,288.0 L417.1,286.8 L421.7,285.7 L426.2,284.4 L430.7,283.1 L435.2,281.8 L439.8,280.4 L444.3,279.0 L448.8,277.6 L453.3,276.1 L457.9,274.7 L462.4,273.2 L466.9,271.6 L471.4,270.1 L476.0,268.6 L480.5,267.0 L485.0,265.5 L489.5,263.9 L494.1,262.4 L494.1,289.2 L489.5,289.7 L485.0,290.2 L480.5,290.6 L476.0,291.1 L471.4,291.6 L466.9,292.1 L462.4,292.7 L457.9,293.2 L453.3,293.8 L448.8,294.3 L444.3,294.9 L439.8,295.6 L435.2,296.2 L430.7,296.9 L426.2,297.7 L421.7,298.5 L417.1,299.3 L412.6,300.2 L408.1,301.2 L403.6,302.2 L399.0,303.3 L394.5,304.4 L390.0,305.7 L385.5,307.0 L380.9,308.3 L376.4,309.7 L371.9,311.1 L367.4,312.5 L362.8,314.0 L358.3,315.5 L353.8,317.0 L349.3,318.5 L344.7,320.1 L340.2,321.7 L335.7,323.2 L331.1,324.8 L326.6,326.4 L322.1,328.0 L317.6,329.6 L313.0,331.2 Z" fill="#c3c3c3" fill-opacity="0.25"/>
<path d="M288.2,213.4 V390.5 H513.0" fill="none" stroke="#3c3c3c" stroke-width="1.0"/>
<text x="288.2" y="401.5" font-size="9" text-anchor="middle">4</text>
<line x1="311.9" y1="390.5" x2="311.9" y2="387.3" stroke="#3c3c3c" stroke-width="1"/>
<text x="311.9" y="401.5" font-size="9" text-anchor="middle">6</text>
<line x1="335.5" y1="390.5" x2="335.5" y2="387.3" stroke="#3c3c3c" stroke-width="1"/>
<text x="335.5" y="401.5" font-size="9" text-anchor="middle">8</text>
<line x1="359.2" y1="390.5" x2="359.2" y2="387.3" stroke="#3c3c3c" stroke-width="1"/>
<text x="359.2" y="401.5" font-size="9" text-anchor="middle">10</text>
<line x1="382.9" y1="390.5" x2="382.9" y2="387.3" stroke="#3c3c3c" stroke-width="1"/>
<text x="382.9" y="401.5" font-size="9" text-anchor="middle">12</text>
<line x1="406.5" y1="390.5" x2="406.5" y2="387.3" stroke="#3c3c3c" stroke-width="1"/>
<text x="406.5" y="401.5" font-size="9" text-anchor="middle">14</text>
<line x1="430.2" y1="390.5" x2="430.2" y2="387.3" stroke="#3c3c3c" stroke-width="1"/>
<text x="430.2" y="401.5" font-size="9" text-anchor="middle">16</text>
<line x1="453.8" y1="390.5" x2="453.8" y2="387.3" stroke="#3c3c3c" stroke-width="1"/>
<text x="453.8" y="401.5" font-size="9" text-anchor="middle">18</text>
<line x1="477.5" y1="390.5" x2="477.5" y2="387.3" stroke="#3c3c3c" stroke-width="1"/>
<text x="477.5" y="401.5" font-size="9" text-anchor="middle">20</text>
<line x1="501.2" y1="390.5" x2="501.2" y2="387.3" stroke="#3c3c3c" stroke-width="1"/>
<text x="501.2" y="401.5" font-size="9" text-anchor="middle">22</text>
<text x="283.9" y="393.6" font-size="9" text-anchor="end">-0.6</text>
<line x1="288.2" y1="361.0" x2="291.4" y2="361.0" stroke="#3c3c3c" stroke-width="1"/>
<text x="283.9" y="364.1" font-size="9" text-anchor="end">-0.4</text>
<line x1="288.2" y1="331.5" x2="291.4" y2="331.5" stroke="#3c3c3c" stroke-width="1"/>
<text x="283.9" y="334.6" font-size="9" text-anchor="end">-0.2</text>
<line x1="288.2" y1="301.9" x2="291.4" y2="301.9" stroke="#3c3c3c" stroke-width="1"/>
<text x="283.9" y="305.1" font-size="9" text-anchor="end">0.0</text>
<line x1="288.2" y1="272.4" x2="291.4" y2="272.4" stroke="#3c3c3c" stroke-width="1"/>
<text x="283.9" y="275.5" font-size="9" text-anchor="end">0.2</text>
<line x1="288.2" y1="242.9" x2="291.4" y2="242.9" stroke="#3c3c3c" stroke-width="1"/>
<text x="283.9" y="246.0" font-size="9" text-anchor="end">0.4</text>
<line x1="288.2" y1="213.4" x2="291.4" y2="213.4" stroke="#3c3c3c" stroke-width="1"/>
<text x="283.9" y="216.5" font-size="9" text-anchor="end">0.6</text>
<text x="360.6" y="417.0" font-size="10">Temperature<tspan dx="3.3" style="fill:#505050;stroke:none">(</tspan><tspan dx="3.6" font-size="8" dy="-1.2">°</tspan><tspan dy="1.2">C</tspan><tspan dx="3.2" style="fill:#505050;stroke:none">)</tspan></text>
<text transform="translate(266.2,305.2) rotate(-90)" font-size="10" text-anchor="middle">Rn<tspan dx="3.1" style="fill:#505050;stroke:none">(</tspan><tspan dx="3.1">gN·kg-1·d-1</tspan><tspan dx="2.2" style="fill:#505050;stroke:none">)</tspan></text>
<text x="301.5" y="228.4" font-size="9.15">y=0.018*x-0.208</text>
<text x="301.9" y="239.7" font-size="9">P</text>
<path d="M314.8,233.7 L308.1,236.6 L314.8,239.5" fill="none" stroke="#3a3a3a" stroke-width="0.75"/>
<text x="315.6" y="239.7" font-size="9">0.01</text>
<text x="493.4" y="221.5" font-size="10" text-anchor="middle"><tspan font-size="7.6" dy="-0.6" style="fill:#404040;stroke:none">(</tspan><tspan dx="2.2" dy="0.6">e</tspan><tspan dx="2.2" dy="-0.6" font-size="7.6" style="fill:#404040;stroke:none">)</tspan></text>
<line x1="569.2" y1="309.9" x2="751.4" y2="259.3" stroke="#8a8a8a" stroke-width="0.7"/>
<g><circle cx="569.4" cy="284.3" r="2.25" fill="#058605"/><circle cx="570.8" cy="283.8" r="2.25" fill="#058605"/><circle cx="569.8" cy="285.5" r="2.25" fill="#058605"/><circle cx="630.7" cy="252.7" r="2.25" fill="#058605"/><circle cx="630.7" cy="256.6" r="2.25" fill="#058605"/><circle cx="629.7" cy="263.7" r="2.25" fill="#058605"/><circle cx="615.8" cy="283.8" r="2.25" fill="#058605"/><circle cx="615.8" cy="286.0" r="2.25" fill="#058605"/><circle cx="621.1" cy="285.7" r="2.25" fill="#058605"/><circle cx="620.4" cy="289.2" r="2.25" fill="#058605"/><circle cx="634.0" cy="288.6" r="2.25" fill="#058605"/><circle cx="639.7" cy="284.6" r="2.25" fill="#058605"/><circle cx="640.2" cy="286.7" r="2.25" fill="#058605"/><circle cx="640.8" cy="274.8" r="2.25" fill="#058605"/><circle cx="650.5" cy="276.2" r="2.25" fill="#058605"/><circle cx="651.7" cy="278.5" r="2.25" fill="#058605"/><circle cx="656.5" cy="272.8" r="2.25" fill="#058605"/><circle cx="658.4" cy="273.4" r="2.25" fill="#058605"/><circle cx="660.9" cy="270.3" r="2.25" fill="#058605"/><circle cx="664.7" cy="279.4" r="2.25" fill="#058605"/><circle cx="669.1" cy="282.2" r="2.25" fill="#058605"/><circle cx="670.7" cy="282.5" r="2.25" fill="#058605"/><circle cx="680.3" cy="276.2" r="2.25" fill="#058605"/><circle cx="683.5" cy="273.5" r="2.25" fill="#058605"/><circle cx="693.4" cy="271.9" r="2.25" fill="#058605"/><circle cx="693.4" cy="275.0" r="2.25" fill="#058605"/><circle cx="696.0" cy="279.4" r="2.25" fill="#058605"/><circle cx="692.8" cy="283.5" r="2.25" fill="#058605"/><circle cx="697.9" cy="284.1" r="2.25" fill="#058605"/><circle cx="708.4" cy="281.0" r="2.25" fill="#058605"/><circle cx="679.0" cy="230.9" r="2.25" fill="#058605"/><circle cx="679.0" cy="236.0" r="2.25" fill="#058605"/><circle cx="679.5" cy="238.8" r="2.25" fill="#058605"/><circle cx="675.5" cy="240.4" r="2.25" fill="#058605"/><circle cx="675.2" cy="242.0" r="2.25" fill="#058605"/><circle cx="718.3" cy="251.1" r="2.25" fill="#058605"/><circle cx="718.6" cy="252.7" r="2.25" fill="#058605"/><circle cx="718.9" cy="259.6" r="2.25" fill="#058605"/><circle cx="742.2" cy="248.7" r="2.25" fill="#058605"/><circle cx="741.7" cy="252.7" r="2.25" fill="#058605"/><circle cx="747.0" cy="237.2" r="2.25" fill="#058605"/><circle cx="750.8" cy="234.4" r="2.25" fill="#058605"/><circle cx="751.8" cy="233.1" r="2.25" fill="#058605"/><circle cx="634.3" cy="306.8" r="2.25" fill="#058605"/><circle cx="633.5" cy="308.8" r="2.25" fill="#058605"/><circle cx="644.7" cy="305.2" r="2.25" fill="#058605"/><circle cx="645.5" cy="310.7" r="2.25" fill="#058605"/><circle cx="645.5" cy="313.1" r="2.25" fill="#058605"/><circle cx="663.5" cy="300.9" r="2.25" fill="#058605"/><circle cx="664.6" cy="306.8" r="2.25" fill="#058605"/><circle cx="637.5" cy="321.1" r="2.25" fill="#058605"/><circle cx="637.0" cy="325.1" r="2.25" fill="#058605"/><circle cx="647.9" cy="321.9" r="2.25" fill="#058605"/><circle cx="648.2" cy="324.3" r="2.25" fill="#058605"/><circle cx="647.9" cy="327.0" r="2.25" fill="#058605"/><circle cx="665.7" cy="325.1" r="2.25" fill="#058605"/><circle cx="637.8" cy="336.3" r="2.25" fill="#058605"/><circle cx="665.7" cy="337.6" r="2.25" fill="#058605"/><circle cx="665.7" cy="369.8" r="2.25" fill="#058605"/><circle cx="701.8" cy="312.7" r="2.25" fill="#058605"/><circle cx="702.1" cy="316.3" r="2.25" fill="#058605"/></g>
<path d="M569.2,293.9 L573.8,293.3 L578.3,292.6 L582.9,291.9 L587.4,291.2 L592.0,290.5 L596.5,289.8 L601.1,289.0 L605.6,288.3 L610.2,287.6 L614.7,286.8 L619.3,286.1 L623.8,285.3 L628.4,284.5 L633.0,283.7 L637.5,282.9 L642.1,282.0 L646.6,281.1 L651.2,280.2 L655.7,279.2 L660.3,278.2 L664.8,277.2 L669.4,276.1 L673.9,274.9 L678.5,273.6 L683.0,272.3 L687.6,270.9 L692.2,269.3 L696.7,267.7 L701.3,266.1 L705.8,264.3 L710.4,262.6 L714.9,260.7 L719.5,258.9 L724.0,257.0 L728.6,255.1 L733.1,253.2 L737.7,251.3 L742.2,249.3 L746.8,247.4 L751.4,245.4 L751.4,273.2 L746.8,273.7 L742.2,274.3 L737.7,274.9 L733.1,275.5 L728.6,276.1 L724.0,276.8 L719.5,277.4 L714.9,278.1 L710.4,278.8 L705.8,279.6 L701.3,280.4 L696.7,281.2 L692.2,282.1 L687.6,283.2 L683.0,284.2 L678.5,285.4 L673.9,286.7 L669.4,288.1 L664.8,289.5 L660.3,291.0 L655.7,292.5 L651.2,294.0 L646.6,295.6 L642.1,297.3 L637.5,299.0 L633.0,300.7 L628.4,302.4 L623.8,304.1 L619.3,305.9 L614.7,307.7 L610.2,309.4 L605.6,311.2 L601.1,313.0 L596.5,314.8 L592.0,316.7 L587.4,318.5 L582.9,320.3 L578.3,322.1 L573.8,324.0 L569.2,325.8 Z" fill="#c3c3c3" fill-opacity="0.25"/>
<path d="M544.2,213.4 V390.5 H770.4" fill="none" stroke="#3c3c3c" stroke-width="1.0"/>
<text x="544.2" y="401.5" font-size="9" text-anchor="middle">4</text>
<line x1="568.0" y1="390.5" x2="568.0" y2="387.3" stroke="#3c3c3c" stroke-width="1"/>
<text x="568.0" y="401.5" font-size="9" text-anchor="middle">6</text>
<line x1="591.8" y1="390.5" x2="591.8" y2="387.3" stroke="#3c3c3c" stroke-width="1"/>
<text x="591.8" y="401.5" font-size="9" text-anchor="middle">8</text>
<line x1="615.6" y1="390.5" x2="615.6" y2="387.3" stroke="#3c3c3c" stroke-width="1"/>
<text x="615.6" y="401.5" font-size="9" text-anchor="middle">10</text>
<line x1="639.4" y1="390.5" x2="639.4" y2="387.3" stroke="#3c3c3c" stroke-width="1"/>
<text x="639.4" y="401.5" font-size="9" text-anchor="middle">12</text>
<line x1="663.3" y1="390.5" x2="663.3" y2="387.3" stroke="#3c3c3c" stroke-width="1"/>
<text x="663.3" y="401.5" font-size="9" text-anchor="middle">14</text>
<line x1="687.1" y1="390.5" x2="687.1" y2="387.3" stroke="#3c3c3c" stroke-width="1"/>
<text x="687.1" y="401.5" font-size="9" text-anchor="middle">16</text>
<line x1="710.9" y1="390.5" x2="710.9" y2="387.3" stroke="#3c3c3c" stroke-width="1"/>
<text x="710.9" y="401.5" font-size="9" text-anchor="middle">18</text>
<line x1="734.7" y1="390.5" x2="734.7" y2="387.3" stroke="#3c3c3c" stroke-width="1"/>
<text x="734.7" y="401.5" font-size="9" text-anchor="middle">20</text>
<line x1="758.5" y1="390.5" x2="758.5" y2="387.3" stroke="#3c3c3c" stroke-width="1"/>
<text x="758.5" y="401.5" font-size="9" text-anchor="middle">22</text>
<text x="539.9" y="393.6" font-size="9" text-anchor="end">-2.0</text>
<line x1="544.2" y1="361.0" x2="547.4" y2="361.0" stroke="#3c3c3c" stroke-width="1"/>
<text x="539.9" y="364.1" font-size="9" text-anchor="end">-1.5</text>
<line x1="544.2" y1="331.5" x2="547.4" y2="331.5" stroke="#3c3c3c" stroke-width="1"/>
<text x="539.9" y="334.6" font-size="9" text-anchor="end">-1.0</text>
<line x1="544.2" y1="301.9" x2="547.4" y2="301.9" stroke="#3c3c3c" stroke-width="1"/>
<text x="539.9" y="305.1" font-size="9" text-anchor="end">-0.5</text>
<line x1="544.2" y1="272.4" x2="547.4" y2="272.4" stroke="#3c3c3c" stroke-width="1"/>
<text x="539.9" y="275.5" font-size="9" text-anchor="end">0.0</text>
<line x1="544.2" y1="242.9" x2="547.4" y2="242.9" stroke="#3c3c3c" stroke-width="1"/>
<text x="539.9" y="246.0" font-size="9" text-anchor="end">0.5</text>
<line x1="544.2" y1="213.4" x2="547.4" y2="213.4" stroke="#3c3c3c" stroke-width="1"/>
<text x="539.9" y="216.5" font-size="9" text-anchor="end">1.0</text>
<text x="617.5" y="417.0" font-size="10">Temperature<tspan dx="3.3" style="fill:#505050;stroke:none">(</tspan><tspan dx="3.6" font-size="8" dy="-1.2">°</tspan><tspan dy="1.2">C</tspan><tspan dx="3.2" style="fill:#505050;stroke:none">)</tspan></text>
<text transform="translate(521.7,305.4) rotate(-90)" font-size="10" text-anchor="middle">Rm<tspan dx="3.1" style="fill:#505050;stroke:none">(</tspan><tspan dx="3.1">gN·kg-1·d-1</tspan><tspan dx="2.2" style="fill:#505050;stroke:none">)</tspan></text>
<text x="560.6" y="237.5" font-size="9.15">y=0.056*x-0.976</text>
<text x="561.0" y="249.1" font-size="9">P</text>
<path d="M573.9,243.1 L567.2,246.0 L573.9,248.9" fill="none" stroke="#3a3a3a" stroke-width="0.75"/>
<text x="574.7" y="249.1" font-size="9">0.01</text>
<text x="742.1" y="217.5" font-size="10" text-anchor="middle"><tspan font-size="7.6" dy="-0.6" style="fill:#404040;stroke:none">(</tspan><tspan dx="2.2" dy="0.6">f</tspan><tspan dx="2.2" dy="-0.6" font-size="7.6" style="fill:#404040;stroke:none">)</tspan></text>
<line x1="53.9" y1="554.4" x2="220.8" y2="446.0" stroke="#8a8a8a" stroke-width="0.7"/>
<g><circle cx="141.6" cy="466.7" r="2.25" fill="#8b4604"/><circle cx="138.4" cy="467.6" r="2.25" fill="#8b4604"/><circle cx="136.5" cy="469.6" r="2.25" fill="#8b4604"/><circle cx="135.2" cy="470.8" r="2.25" fill="#8b4604"/><circle cx="139.0" cy="470.8" r="2.25" fill="#8b4604"/><circle cx="142.2" cy="472.7" r="2.25" fill="#8b4604"/><circle cx="137.1" cy="473.4" r="2.25" fill="#8b4604"/><circle cx="139.5" cy="475.0" r="2.25" fill="#8b4604"/><circle cx="133.3" cy="477.2" r="2.25" fill="#8b4604"/><circle cx="136.5" cy="477.2" r="2.25" fill="#8b4604"/><circle cx="140.9" cy="477.2" r="2.25" fill="#8b4604"/><circle cx="135.2" cy="480.4" r="2.25" fill="#8b4604"/><circle cx="139.0" cy="480.4" r="2.25" fill="#8b4604"/><circle cx="139.7" cy="482.9" r="2.25" fill="#8b4604"/><circle cx="136.5" cy="482.9" r="2.25" fill="#8b4604"/><circle cx="128.8" cy="483.6" r="2.25" fill="#8b4604"/><circle cx="125.6" cy="484.9" r="2.25" fill="#8b4604"/><circle cx="127.6" cy="486.1" r="2.25" fill="#8b4604"/><circle cx="130.7" cy="485.5" r="2.25" fill="#8b4604"/><circle cx="133.9" cy="486.8" r="2.25" fill="#8b4604"/><circle cx="137.1" cy="485.5" r="2.25" fill="#8b4604"/><circle cx="133.9" cy="489.0" r="2.25" fill="#8b4604"/><circle cx="138.4" cy="489.6" r="2.25" fill="#8b4604"/><circle cx="139.0" cy="492.5" r="2.25" fill="#8b4604"/><circle cx="130.4" cy="494.4" r="2.25" fill="#8b4604"/><circle cx="132.3" cy="493.8" r="2.25" fill="#8b4604"/><circle cx="137.5" cy="475.5" r="2.25" fill="#8b4604"/><circle cx="134.0" cy="483.5" r="2.25" fill="#8b4604"/><circle cx="155.5" cy="482.2" r="2.25" fill="#8b4604"/><circle cx="182.9" cy="459.7" r="2.25" fill="#8b4604"/><circle cx="204.1" cy="434.8" r="2.25" fill="#8b4604"/><circle cx="199.3" cy="438.4" r="2.25" fill="#8b4604"/><circle cx="204.9" cy="440.0" r="2.25" fill="#8b4604"/><circle cx="201.3" cy="443.5" r="2.25" fill="#8b4604"/><circle cx="200.9" cy="446.5" r="2.25" fill="#8b4604"/><circle cx="205.6" cy="444.7" r="2.25" fill="#8b4604"/><circle cx="200.5" cy="452.3" r="2.25" fill="#8b4604"/><circle cx="202.0" cy="452.7" r="2.25" fill="#8b4604"/><circle cx="206.8" cy="451.9" r="2.25" fill="#8b4604"/><circle cx="190.9" cy="457.5" r="2.25" fill="#8b4604"/><circle cx="188.9" cy="463.5" r="2.25" fill="#8b4604"/><circle cx="193.9" cy="463.5" r="2.25" fill="#8b4604"/><circle cx="196.9" cy="466.9" r="2.25" fill="#8b4604"/><circle cx="187.9" cy="474.3" r="2.25" fill="#8b4604"/><circle cx="220.8" cy="480.6" r="2.25" fill="#8b4604"/><circle cx="216.0" cy="484.8" r="2.25" fill="#8b4604"/><circle cx="215.2" cy="495.6" r="2.25" fill="#8b4604"/><circle cx="166.0" cy="510.8" r="2.25" fill="#8b4604"/><circle cx="138.6" cy="516.6" r="2.25" fill="#8b4604"/><circle cx="100.3" cy="522.5" r="2.25" fill="#8b4604"/><circle cx="112.0" cy="523.0" r="2.25" fill="#8b4604"/><circle cx="112.9" cy="527.0" r="2.25" fill="#8b4604"/><circle cx="125.5" cy="527.0" r="2.25" fill="#8b4604"/><circle cx="131.8" cy="523.0" r="2.25" fill="#8b4604"/><circle cx="139.3" cy="524.7" r="2.25" fill="#8b4604"/><circle cx="148.5" cy="524.3" r="2.25" fill="#8b4604"/><circle cx="144.0" cy="529.7" r="2.25" fill="#8b4604"/><circle cx="147.1" cy="533.8" r="2.25" fill="#8b4604"/><circle cx="135.9" cy="535.6" r="2.25" fill="#8b4604"/><circle cx="112.9" cy="543.7" r="2.25" fill="#8b4604"/><circle cx="112.5" cy="546.8" r="2.25" fill="#8b4604"/><circle cx="124.9" cy="545.0" r="2.25" fill="#8b4604"/><circle cx="137.7" cy="550.7" r="2.25" fill="#8b4604"/><circle cx="149.4" cy="563.0" r="2.25" fill="#8b4604"/><circle cx="157.3" cy="567.5" r="2.25" fill="#8b4604"/><circle cx="123.7" cy="569.8" r="2.25" fill="#8b4604"/><circle cx="128.2" cy="569.8" r="2.25" fill="#8b4604"/><circle cx="54.0" cy="586.4" r="2.25" fill="#8b4604"/></g>
<path d="M53.9,533.9 L58.0,532.0 L62.2,530.1 L66.4,528.1 L70.5,526.2 L74.7,524.2 L78.9,522.3 L83.1,520.3 L87.2,518.4 L91.4,516.4 L95.6,514.4 L99.8,512.4 L103.9,510.3 L108.1,508.3 L112.3,506.2 L116.4,504.1 L120.6,501.9 L124.8,499.7 L129.0,497.5 L133.1,495.1 L137.3,492.7 L141.5,490.2 L145.7,487.7 L149.8,485.0 L154.0,482.2 L158.2,479.4 L162.3,476.5 L166.5,473.5 L170.7,470.5 L174.9,467.4 L179.0,464.3 L183.2,461.1 L187.4,457.9 L191.5,454.7 L195.7,451.4 L199.9,448.1 L204.1,444.8 L208.2,441.5 L212.4,438.2 L216.6,434.9 L220.8,431.5 L220.8,460.4 L216.6,462.5 L212.4,464.6 L208.2,466.7 L204.1,468.8 L199.9,470.9 L195.7,473.0 L191.5,475.2 L187.4,477.4 L183.2,479.6 L179.0,481.9 L174.9,484.2 L170.7,486.5 L166.5,488.9 L162.3,491.4 L158.2,493.9 L154.0,496.5 L149.8,499.1 L145.7,501.9 L141.5,504.7 L137.3,507.7 L133.1,510.7 L129.0,513.8 L124.8,516.9 L120.6,520.2 L116.4,523.4 L112.3,526.7 L108.1,530.1 L103.9,533.4 L99.8,536.8 L95.6,540.2 L91.4,543.7 L87.2,547.1 L83.1,550.6 L78.9,554.0 L74.7,557.5 L70.5,561.0 L66.4,564.5 L62.2,568.0 L58.0,571.5 L53.9,575.0 Z" fill="#c3c3c3" fill-opacity="0.25"/>
<path d="M31.9,422.1 V598.9 H251.5" fill="none" stroke="#5a5a5a" stroke-width="1.0"/>
<text x="31.9" y="609.9" font-size="9" text-anchor="middle">-0.6</text>
<line x1="68.5" y1="598.9" x2="68.5" y2="595.7" stroke="#5a5a5a" stroke-width="1"/>
<text x="68.5" y="609.9" font-size="9" text-anchor="middle">-0.4</text>
<line x1="105.1" y1="598.9" x2="105.1" y2="595.7" stroke="#5a5a5a" stroke-width="1"/>
<text x="105.1" y="609.9" font-size="9" text-anchor="middle">-0.2</text>
<line x1="141.7" y1="598.9" x2="141.7" y2="595.7" stroke="#5a5a5a" stroke-width="1"/>
<text x="141.7" y="609.9" font-size="9" text-anchor="middle">0.0</text>
<line x1="178.3" y1="598.9" x2="178.3" y2="595.7" stroke="#5a5a5a" stroke-width="1"/>
<text x="178.3" y="609.9" font-size="9" text-anchor="middle">0.2</text>
<line x1="214.9" y1="598.9" x2="214.9" y2="595.7" stroke="#5a5a5a" stroke-width="1"/>
<text x="214.9" y="609.9" font-size="9" text-anchor="middle">0.4</text>
<line x1="251.5" y1="598.9" x2="251.5" y2="595.7" stroke="#5a5a5a" stroke-width="1"/>
<text x="251.5" y="609.9" font-size="9" text-anchor="middle">0.6</text>
<line x1="31.9" y1="589.1" x2="35.1" y2="589.1" stroke="#5a5a5a" stroke-width="1"/>
<text x="27.6" y="592.2" font-size="9" text-anchor="end">-1.2</text>
<line x1="31.9" y1="569.4" x2="35.1" y2="569.4" stroke="#5a5a5a" stroke-width="1"/>
<text x="27.6" y="572.5" font-size="9" text-anchor="end">-1.0</text>
<line x1="31.9" y1="549.8" x2="35.1" y2="549.8" stroke="#5a5a5a" stroke-width="1"/>
<text x="27.6" y="552.9" font-size="9" text-anchor="end">-0.8</text>
<line x1="31.9" y1="530.1" x2="35.1" y2="530.1" stroke="#5a5a5a" stroke-width="1"/>
<text x="27.6" y="533.2" font-size="9" text-anchor="end">-0.6</text>
<line x1="31.9" y1="510.5" x2="35.1" y2="510.5" stroke="#5a5a5a" stroke-width="1"/>
<text x="27.6" y="513.6" font-size="9" text-anchor="end">-0.4</text>
<line x1="31.9" y1="490.9" x2="35.1" y2="490.9" stroke="#5a5a5a" stroke-width="1"/>
<text x="27.6" y="494.0" font-size="9" text-anchor="end">-0.2</text>
<line x1="31.9" y1="471.2" x2="35.1" y2="471.2" stroke="#5a5a5a" stroke-width="1"/>
<text x="27.6" y="474.3" font-size="9" text-anchor="end">0.0</text>
<line x1="31.9" y1="451.6" x2="35.1" y2="451.6" stroke="#5a5a5a" stroke-width="1"/>
<text x="27.6" y="454.7" font-size="9" text-anchor="end">0.2</text>
<line x1="31.9" y1="431.9" x2="35.1" y2="431.9" stroke="#5a5a5a" stroke-width="1"/>
<text x="27.6" y="435.0" font-size="9" text-anchor="end">0.4</text>
<text x="103.9" y="624.0" font-size="10">Rn<tspan dx="3.0" style="fill:#505050;stroke:none">(</tspan><tspan dx="2.4">gN·kg<tspan font-size="6.5" dy="-3.6">-1</tspan><tspan dy="3.6">·d</tspan><tspan font-size="6.5" dy="-3.6">-1</tspan><tspan dy="3.6" dx="0.6" style="fill:#505050;stroke:none">)</tspan></tspan></text>
<text transform="translate(8.6,513.3) rotate(-90)" font-size="10" text-anchor="middle">Ra<tspan dx="3.8" style="fill:#505050;stroke:none">(</tspan><tspan dx="3.0">gN·kg<tspan font-size="6.5" dy="-3.6">-1</tspan><tspan dy="3.6">·d</tspan><tspan font-size="6.5" dy="-3.6">-1</tspan><tspan dy="3.6" dx="1.8" style="fill:#505050;stroke:none">)</tspan></tspan></text>
<text x="47.1" y="446.1" font-size="9.15">y=1.211*x-0.266</text>
<text x="47.5" y="457.4" font-size="9">P</text>
<path d="M60.4,451.4 L53.7,454.3 L60.4,457.2" fill="none" stroke="#3a3a3a" stroke-width="0.75"/>
<text x="61.2" y="457.4" font-size="9">0.01</text>
<text x="234.7" y="427.5" font-size="10" text-anchor="middle"><tspan font-size="7.6" dy="-0.6" style="fill:#404040;stroke:none">(</tspan><tspan dx="2.2" dy="0.6">g</tspan><tspan dx="2.2" dy="-0.6" font-size="7.6" style="fill:#404040;stroke:none">)</tspan></text>
<line x1="316.8" y1="569.2" x2="489.0" y2="466.1" stroke="#8a8a8a" stroke-width="0.7"/>
<g><circle cx="316.9" cy="580.7" r="2.25" fill="#8b4604"/><circle cx="372.2" cy="498.2" r="2.25" fill="#8b4604"/><circle cx="372.2" cy="504.4" r="2.25" fill="#8b4604"/><circle cx="358.6" cy="520.9" r="2.25" fill="#8b4604"/><circle cx="356.8" cy="525.0" r="2.25" fill="#8b4604"/><circle cx="376.8" cy="513.6" r="2.25" fill="#8b4604"/><circle cx="375.9" cy="524.3" r="2.25" fill="#8b4604"/><circle cx="370.2" cy="533.7" r="2.25" fill="#8b4604"/><circle cx="372.2" cy="533.7" r="2.25" fill="#8b4604"/><circle cx="383.0" cy="543.6" r="2.25" fill="#8b4604"/><circle cx="384.5" cy="533.7" r="2.25" fill="#8b4604"/><circle cx="387.6" cy="534.3" r="2.25" fill="#8b4604"/><circle cx="387.2" cy="515.2" r="2.25" fill="#8b4604"/><circle cx="389.8" cy="523.7" r="2.25" fill="#8b4604"/><circle cx="392.9" cy="506.5" r="2.25" fill="#8b4604"/><circle cx="394.9" cy="508.5" r="2.25" fill="#8b4604"/><circle cx="396.9" cy="512.4" r="2.25" fill="#8b4604"/><circle cx="401.0" cy="505.0" r="2.25" fill="#8b4604"/><circle cx="403.0" cy="512.7" r="2.25" fill="#8b4604"/><circle cx="395.3" cy="518.6" r="2.25" fill="#8b4604"/><circle cx="418.0" cy="491.1" r="2.25" fill="#8b4604"/><circle cx="416.2" cy="519.0" r="2.25" fill="#8b4604"/><circle cx="434.9" cy="499.5" r="2.25" fill="#8b4604"/><circle cx="420.8" cy="512.9" r="2.25" fill="#8b4604"/><circle cx="420.8" cy="523.7" r="2.25" fill="#8b4604"/><circle cx="421.8" cy="520.6" r="2.25" fill="#8b4604"/><circle cx="423.4" cy="515.4" r="2.25" fill="#8b4604"/><circle cx="427.0" cy="512.3" r="2.25" fill="#8b4604"/><circle cx="427.5" cy="515.4" r="2.25" fill="#8b4604"/><circle cx="429.5" cy="517.5" r="2.25" fill="#8b4604"/><circle cx="430.6" cy="513.4" r="2.25" fill="#8b4604"/><circle cx="433.1" cy="510.3" r="2.25" fill="#8b4604"/><circle cx="434.2" cy="513.4" r="2.25" fill="#8b4604"/><circle cx="436.2" cy="515.4" r="2.25" fill="#8b4604"/><circle cx="436.7" cy="509.3" r="2.25" fill="#8b4604"/><circle cx="438.8" cy="512.9" r="2.25" fill="#8b4604"/><circle cx="440.8" cy="510.3" r="2.25" fill="#8b4604"/><circle cx="422.9" cy="521.6" r="2.25" fill="#8b4604"/><circle cx="425.4" cy="517.0" r="2.25" fill="#8b4604"/><circle cx="420.3" cy="515.4" r="2.25" fill="#8b4604"/><circle cx="424.5" cy="519.5" r="2.25" fill="#8b4604"/><circle cx="431.5" cy="515.5" r="2.25" fill="#8b4604"/><circle cx="418.5" cy="516.5" r="2.25" fill="#8b4604"/><circle cx="422.0" cy="518.0" r="2.25" fill="#8b4604"/><circle cx="425.0" cy="514.0" r="2.25" fill="#8b4604"/><circle cx="428.5" cy="513.5" r="2.25" fill="#8b4604"/><circle cx="432.0" cy="512.0" r="2.25" fill="#8b4604"/><circle cx="435.0" cy="511.5" r="2.25" fill="#8b4604"/><circle cx="438.0" cy="511.0" r="2.25" fill="#8b4604"/><circle cx="426.0" cy="518.5" r="2.25" fill="#8b4604"/><circle cx="430.0" cy="516.0" r="2.25" fill="#8b4604"/><circle cx="433.5" cy="514.5" r="2.25" fill="#8b4604"/><circle cx="437.5" cy="514.0" r="2.25" fill="#8b4604"/><circle cx="441.5" cy="512.0" r="2.25" fill="#8b4604"/><circle cx="419.0" cy="521.0" r="2.25" fill="#8b4604"/><circle cx="423.5" cy="523.0" r="2.25" fill="#8b4604"/><circle cx="428.0" cy="519.0" r="2.25" fill="#8b4604"/><circle cx="418.0" cy="519.0" r="2.25" fill="#8b4604"/><circle cx="453.8" cy="473.5" r="2.25" fill="#8b4604"/><circle cx="462.5" cy="472.5" r="2.25" fill="#8b4604"/><circle cx="467.7" cy="471.2" r="2.25" fill="#8b4604"/><circle cx="462.7" cy="477.9" r="2.25" fill="#8b4604"/><circle cx="449.1" cy="451.5" r="2.25" fill="#8b4604"/><circle cx="457.2" cy="450.8" r="2.25" fill="#8b4604"/><circle cx="462.3" cy="447.0" r="2.25" fill="#8b4604"/><circle cx="478.4" cy="458.2" r="2.25" fill="#8b4604"/><circle cx="475.4" cy="463.0" r="2.25" fill="#8b4604"/><circle cx="480.2" cy="462.5" r="2.25" fill="#8b4604"/><circle cx="483.0" cy="459.6" r="2.25" fill="#8b4604"/><circle cx="486.9" cy="459.6" r="2.25" fill="#8b4604"/><circle cx="489.9" cy="460.6" r="2.25" fill="#8b4604"/><circle cx="485.0" cy="464.0" r="2.25" fill="#8b4604"/><circle cx="463.0" cy="466.3" r="2.25" fill="#8b4604"/><circle cx="463.9" cy="468.3" r="2.25" fill="#8b4604"/></g>
<path d="M316.8,558.9 L321.1,556.7 L325.5,554.5 L329.8,552.3 L334.1,550.1 L338.4,547.9 L342.7,545.7 L347.0,543.5 L351.3,541.2 L355.6,539.0 L359.9,536.8 L364.2,534.5 L368.5,532.3 L372.8,530.0 L377.1,527.8 L381.4,525.5 L385.7,523.2 L390.0,520.9 L394.3,518.5 L398.6,516.2 L402.9,513.8 L407.2,511.3 L411.5,508.9 L415.8,506.4 L420.1,503.8 L424.5,501.2 L428.8,498.6 L433.1,496.0 L437.4,493.3 L441.7,490.7 L446.0,488.0 L450.3,485.3 L454.6,482.6 L458.9,479.9 L463.2,477.2 L467.5,474.5 L471.8,471.8 L476.1,469.0 L480.4,466.3 L484.7,463.5 L489.0,460.8 L489.0,471.4 L484.7,473.8 L480.4,476.2 L476.1,478.6 L471.8,481.0 L467.5,483.4 L463.2,485.9 L458.9,488.3 L454.6,490.8 L450.3,493.2 L446.0,495.7 L441.7,498.2 L437.4,500.7 L433.1,503.2 L428.8,505.7 L424.5,508.3 L420.1,510.9 L415.8,513.5 L411.5,516.1 L407.2,518.8 L402.9,521.5 L398.6,524.3 L394.3,527.1 L390.0,529.9 L385.7,532.8 L381.4,535.6 L377.1,538.5 L372.8,541.4 L368.5,544.3 L364.2,547.2 L359.9,550.1 L355.6,553.0 L351.3,556.0 L347.0,558.9 L342.7,561.8 L338.4,564.8 L334.1,567.7 L329.8,570.7 L325.5,573.6 L321.1,576.6 L316.8,579.6 Z" fill="#c3c3c3" fill-opacity="0.25"/>
<path d="M291.2,422.1 V598.9 H511.0" fill="none" stroke="#5a5a5a" stroke-width="1.0"/>
<text x="291.2" y="609.9" font-size="9" text-anchor="middle">-2.0</text>
<line x1="327.8" y1="598.9" x2="327.8" y2="595.7" stroke="#5a5a5a" stroke-width="1"/>
<text x="327.8" y="609.9" font-size="9" text-anchor="middle">-1.5</text>
<line x1="364.5" y1="598.9" x2="364.5" y2="595.7" stroke="#5a5a5a" stroke-width="1"/>
<text x="364.5" y="609.9" font-size="9" text-anchor="middle">-1.0</text>
<line x1="401.1" y1="598.9" x2="401.1" y2="595.7" stroke="#5a5a5a" stroke-width="1"/>
<text x="401.1" y="609.9" font-size="9" text-anchor="middle">-0.5</text>
<line x1="437.7" y1="598.9" x2="437.7" y2="595.7" stroke="#5a5a5a" stroke-width="1"/>
<text x="437.7" y="609.9" font-size="9" text-anchor="middle">0.0</text>
<line x1="474.4" y1="598.9" x2="474.4" y2="595.7" stroke="#5a5a5a" stroke-width="1"/>
<text x="474.4" y="609.9" font-size="9" text-anchor="middle">0.5</text>
<line x1="511.0" y1="598.9" x2="511.0" y2="595.7" stroke="#5a5a5a" stroke-width="1"/>
<text x="511.0" y="609.9" font-size="9" text-anchor="middle">1.0</text>
<text x="286.9" y="602.0" font-size="9" text-anchor="end">-0.6</text>
<line x1="291.2" y1="569.4" x2="294.4" y2="569.4" stroke="#5a5a5a" stroke-width="1"/>
<text x="286.9" y="572.5" font-size="9" text-anchor="end">-0.4</text>
<line x1="291.2" y1="540.0" x2="294.4" y2="540.0" stroke="#5a5a5a" stroke-width="1"/>
<text x="286.9" y="543.1" font-size="9" text-anchor="end">-0.2</text>
<line x1="291.2" y1="510.5" x2="294.4" y2="510.5" stroke="#5a5a5a" stroke-width="1"/>
<text x="286.9" y="513.6" font-size="9" text-anchor="end">0.0</text>
<line x1="291.2" y1="481.0" x2="294.4" y2="481.0" stroke="#5a5a5a" stroke-width="1"/>
<text x="286.9" y="484.1" font-size="9" text-anchor="end">0.2</text>
<line x1="291.2" y1="451.6" x2="294.4" y2="451.6" stroke="#5a5a5a" stroke-width="1"/>
<text x="286.9" y="454.7" font-size="9" text-anchor="end">0.4</text>
<line x1="291.2" y1="422.1" x2="294.4" y2="422.1" stroke="#5a5a5a" stroke-width="1"/>
<text x="286.9" y="425.2" font-size="9" text-anchor="end">0.6</text>
<text x="361.4" y="624.0" font-size="10">Rm<tspan dx="3.0" style="fill:#505050;stroke:none">(</tspan><tspan dx="2.4">gN·kg<tspan font-size="6.5" dy="-3.6">-1</tspan><tspan dy="3.6">·d</tspan><tspan font-size="6.5" dy="-3.6">-1</tspan><tspan dy="3.6" dx="0.6" style="fill:#505050;stroke:none">)</tspan></tspan></text>
<text transform="translate(268.4,515.0) rotate(-90)" font-size="10" text-anchor="middle">Rn<tspan dx="3.8" style="fill:#505050;stroke:none">(</tspan><tspan dx="3.0">gN·kg<tspan font-size="6.5" dy="-3.6">-1</tspan><tspan dy="3.6">·d</tspan><tspan font-size="6.5" dy="-3.6">-1</tspan><tspan dy="3.6" dx="1.8" style="fill:#505050;stroke:none">)</tspan></tspan></text>
<text x="306.6" y="446.1" font-size="9.15">y=0.298*x+0.093</text>
<text x="307.0" y="457.4" font-size="9">P</text>
<path d="M319.9,451.4 L313.2,454.3 L319.9,457.2" fill="none" stroke="#3a3a3a" stroke-width="0.75"/>
<text x="320.7" y="457.4" font-size="9">0.01</text>
<text x="497.1" y="425.5" font-size="10" text-anchor="middle"><tspan font-size="7.6" dy="-0.6" style="fill:#404040;stroke:none">(</tspan><tspan dx="2.2" dy="0.6">h</tspan><tspan dx="2.2" dy="-0.6" font-size="7.6" style="fill:#404040;stroke:none">)</tspan></text>
<line x1="575.5" y1="593.8" x2="746.9" y2="431.8" stroke="#8a8a8a" stroke-width="0.7"/>
<g><circle cx="575.6" cy="586.2" r="2.25" fill="#8b4604"/><circle cx="615.5" cy="569.9" r="2.25" fill="#8b4604"/><circle cx="617.8" cy="569.9" r="2.25" fill="#8b4604"/><circle cx="631.0" cy="563.0" r="2.25" fill="#8b4604"/><circle cx="631.0" cy="567.5" r="2.25" fill="#8b4604"/><circle cx="631.0" cy="543.4" r="2.25" fill="#8b4604"/><circle cx="628.9" cy="546.6" r="2.25" fill="#8b4604"/><circle cx="634.7" cy="545.0" r="2.25" fill="#8b4604"/><circle cx="635.8" cy="550.7" r="2.25" fill="#8b4604"/><circle cx="641.7" cy="522.7" r="2.25" fill="#8b4604"/><circle cx="646.2" cy="522.7" r="2.25" fill="#8b4604"/><circle cx="643.8" cy="526.8" r="2.25" fill="#8b4604"/><circle cx="648.6" cy="527.1" r="2.25" fill="#8b4604"/><circle cx="654.1" cy="522.7" r="2.25" fill="#8b4604"/><circle cx="655.7" cy="524.3" r="2.25" fill="#8b4604"/><circle cx="660.2" cy="524.3" r="2.25" fill="#8b4604"/><circle cx="654.1" cy="529.5" r="2.25" fill="#8b4604"/><circle cx="651.8" cy="533.8" r="2.25" fill="#8b4604"/><circle cx="646.2" cy="535.9" r="2.25" fill="#8b4604"/><circle cx="661.9" cy="516.4" r="2.25" fill="#8b4604"/><circle cx="677.0" cy="510.5" r="2.25" fill="#8b4604"/><circle cx="700.0" cy="466.7" r="2.25" fill="#8b4604"/><circle cx="698.0" cy="468.0" r="2.25" fill="#8b4604"/><circle cx="695.5" cy="470.2" r="2.25" fill="#8b4604"/><circle cx="696.1" cy="472.7" r="2.25" fill="#8b4604"/><circle cx="693.6" cy="472.1" r="2.25" fill="#8b4604"/><circle cx="692.3" cy="474.3" r="2.25" fill="#8b4604"/><circle cx="690.4" cy="476.6" r="2.25" fill="#8b4604"/><circle cx="689.1" cy="477.8" r="2.25" fill="#8b4604"/><circle cx="691.7" cy="477.8" r="2.25" fill="#8b4604"/><circle cx="687.8" cy="479.8" r="2.25" fill="#8b4604"/><circle cx="685.9" cy="481.7" r="2.25" fill="#8b4604"/><circle cx="683.4" cy="482.9" r="2.25" fill="#8b4604"/><circle cx="680.8" cy="484.2" r="2.25" fill="#8b4604"/><circle cx="679.6" cy="486.1" r="2.25" fill="#8b4604"/><circle cx="682.7" cy="485.5" r="2.25" fill="#8b4604"/><circle cx="680.2" cy="488.0" r="2.25" fill="#8b4604"/><circle cx="682.1" cy="490.0" r="2.25" fill="#8b4604"/><circle cx="679.6" cy="491.2" r="2.25" fill="#8b4604"/><circle cx="677.0" cy="493.1" r="2.25" fill="#8b4604"/><circle cx="675.1" cy="494.4" r="2.25" fill="#8b4604"/><circle cx="694.2" cy="482.0" r="2.25" fill="#8b4604"/><circle cx="681.5" cy="482.0" r="2.25" fill="#8b4604"/><circle cx="684.5" cy="480.5" r="2.25" fill="#8b4604"/><circle cx="688.0" cy="476.0" r="2.25" fill="#8b4604"/><circle cx="693.0" cy="470.5" r="2.25" fill="#8b4604"/><circle cx="697.0" cy="469.5" r="2.25" fill="#8b4604"/><circle cx="678.0" cy="489.0" r="2.25" fill="#8b4604"/><circle cx="683.5" cy="487.5" r="2.25" fill="#8b4604"/><circle cx="686.0" cy="484.0" r="2.25" fill="#8b4604"/><circle cx="690.0" cy="479.5" r="2.25" fill="#8b4604"/><circle cx="694.5" cy="476.0" r="2.25" fill="#8b4604"/><circle cx="678.0" cy="492.5" r="2.25" fill="#8b4604"/><circle cx="681.0" cy="486.0" r="2.25" fill="#8b4604"/><circle cx="748.8" cy="434.8" r="2.25" fill="#8b4604"/><circle cx="744.5" cy="438.2" r="2.25" fill="#8b4604"/><circle cx="746.1" cy="440.0" r="2.25" fill="#8b4604"/><circle cx="741.6" cy="444.1" r="2.25" fill="#8b4604"/><circle cx="739.2" cy="446.8" r="2.25" fill="#8b4604"/><circle cx="737.3" cy="451.9" r="2.25" fill="#8b4604"/><circle cx="734.7" cy="452.5" r="2.25" fill="#8b4604"/><circle cx="726.9" cy="457.5" r="2.25" fill="#8b4604"/><circle cx="721.5" cy="459.7" r="2.25" fill="#8b4604"/><circle cx="721.5" cy="463.3" r="2.25" fill="#8b4604"/><circle cx="723.3" cy="463.9" r="2.25" fill="#8b4604"/><circle cx="722.1" cy="466.9" r="2.25" fill="#8b4604"/><circle cx="712.9" cy="474.3" r="2.25" fill="#8b4604"/><circle cx="721.3" cy="480.6" r="2.25" fill="#8b4604"/><circle cx="716.2" cy="484.8" r="2.25" fill="#8b4604"/><circle cx="708.1" cy="495.6" r="2.25" fill="#8b4604"/></g>
<path d="M575.5,587.9 L579.8,584.1 L584.1,580.3 L588.4,576.5 L592.7,572.6 L597.0,568.8 L601.2,565.0 L605.5,561.2 L609.8,557.4 L614.1,553.5 L618.4,549.7 L622.7,545.9 L626.9,542.0 L631.2,538.2 L635.5,534.4 L639.8,530.5 L644.1,526.7 L648.4,522.8 L652.7,518.9 L656.9,515.0 L661.2,511.1 L665.5,507.2 L669.8,503.2 L674.1,499.3 L678.4,495.2 L682.6,491.2 L686.9,487.1 L691.2,483.0 L695.5,478.8 L699.8,474.7 L704.1,470.5 L708.4,466.3 L712.6,462.1 L716.9,457.9 L721.2,453.7 L725.5,449.5 L729.8,445.3 L734.1,441.0 L738.4,436.8 L742.6,432.6 L746.9,428.3 L746.9,435.2 L742.6,439.1 L738.4,443.0 L734.1,446.8 L729.8,450.7 L725.5,454.6 L721.2,458.5 L716.9,462.4 L712.6,466.3 L708.4,470.2 L704.1,474.1 L699.8,478.0 L695.5,482.0 L691.2,485.9 L686.9,489.9 L682.6,493.9 L678.4,498.0 L674.1,502.0 L669.8,506.2 L665.5,510.3 L661.2,514.5 L656.9,518.7 L652.7,522.9 L648.4,527.1 L644.1,531.4 L639.8,535.6 L635.5,539.9 L631.2,544.1 L626.9,548.4 L622.7,552.7 L618.4,556.9 L614.1,561.2 L609.8,565.5 L605.5,569.8 L601.2,574.0 L597.0,578.3 L592.7,582.6 L588.4,586.9 L584.1,591.2 L579.8,595.4 L575.5,599.7 Z" fill="#c3c3c3" fill-opacity="0.25"/>
<path d="M550.0,422.1 V598.9 H768.8" fill="none" stroke="#5a5a5a" stroke-width="1.0"/>
<text x="550.0" y="609.9" font-size="9" text-anchor="middle">-2.0</text>
<line x1="586.5" y1="598.9" x2="586.5" y2="595.7" stroke="#5a5a5a" stroke-width="1"/>
<text x="586.5" y="609.9" font-size="9" text-anchor="middle">-1.5</text>
<line x1="622.9" y1="598.9" x2="622.9" y2="595.7" stroke="#5a5a5a" stroke-width="1"/>
<text x="622.9" y="609.9" font-size="9" text-anchor="middle">-1.0</text>
<line x1="659.4" y1="598.9" x2="659.4" y2="595.7" stroke="#5a5a5a" stroke-width="1"/>
<text x="659.4" y="609.9" font-size="9" text-anchor="middle">-0.5</text>
<line x1="695.9" y1="598.9" x2="695.9" y2="595.7" stroke="#5a5a5a" stroke-width="1"/>
<text x="695.9" y="609.9" font-size="9" text-anchor="middle">0.0</text>
<line x1="732.3" y1="598.9" x2="732.3" y2="595.7" stroke="#5a5a5a" stroke-width="1"/>
<text x="732.3" y="609.9" font-size="9" text-anchor="middle">0.5</text>
<line x1="768.8" y1="598.9" x2="768.8" y2="595.7" stroke="#5a5a5a" stroke-width="1"/>
<text x="768.8" y="609.9" font-size="9" text-anchor="middle">1.0</text>
<line x1="550.0" y1="589.1" x2="553.2" y2="589.1" stroke="#5a5a5a" stroke-width="1"/>
<text x="545.7" y="592.2" font-size="9" text-anchor="end">-1.2</text>
<line x1="550.0" y1="569.4" x2="553.2" y2="569.4" stroke="#5a5a5a" stroke-width="1"/>
<text x="545.7" y="572.5" font-size="9" text-anchor="end">-1.0</text>
<line x1="550.0" y1="549.8" x2="553.2" y2="549.8" stroke="#5a5a5a" stroke-width="1"/>
<text x="545.7" y="552.9" font-size="9" text-anchor="end">-0.8</text>
<line x1="550.0" y1="530.1" x2="553.2" y2="530.1" stroke="#5a5a5a" stroke-width="1"/>
<text x="545.7" y="533.2" font-size="9" text-anchor="end">-0.6</text>
<line x1="550.0" y1="510.5" x2="553.2" y2="510.5" stroke="#5a5a5a" stroke-width="1"/>
<text x="545.7" y="513.6" font-size="9" text-anchor="end">-0.4</text>
<line x1="550.0" y1="490.9" x2="553.2" y2="490.9" stroke="#5a5a5a" stroke-width="1"/>
<text x="545.7" y="494.0" font-size="9" text-anchor="end">-0.2</text>
<line x1="550.0" y1="471.2" x2="553.2" y2="471.2" stroke="#5a5a5a" stroke-width="1"/>
<text x="545.7" y="474.3" font-size="9" text-anchor="end">0.0</text>
<line x1="550.0" y1="451.6" x2="553.2" y2="451.6" stroke="#5a5a5a" stroke-width="1"/>
<text x="545.7" y="454.7" font-size="9" text-anchor="end">0.2</text>
<line x1="550.0" y1="431.9" x2="553.2" y2="431.9" stroke="#5a5a5a" stroke-width="1"/>
<text x="545.7" y="435.0" font-size="9" text-anchor="end">0.4</text>
<text x="620.6" y="624.0" font-size="10">Rm<tspan dx="3.0" style="fill:#505050;stroke:none">(</tspan><tspan dx="2.4">gN·kg<tspan font-size="6.5" dy="-3.6">-1</tspan><tspan dy="3.6">·d</tspan><tspan font-size="6.5" dy="-3.6">-1</tspan><tspan dy="3.6" dx="0.6" style="fill:#505050;stroke:none">)</tspan></tspan></text>
<text transform="translate(526.9,515.0) rotate(-90)" font-size="10" text-anchor="middle">Ra<tspan dx="3.8" style="fill:#505050;stroke:none">(</tspan><tspan dx="3.0">gN·kg<tspan font-size="6.5" dy="-3.6">-1</tspan><tspan dy="3.6">·d</tspan><tspan font-size="6.5" dy="-3.6">-1</tspan><tspan dy="3.6" dx="1.8" style="fill:#505050;stroke:none">)</tspan></tspan></text>
<text x="565.9" y="445.6" font-size="9.15">y=0.702*x-0.09</text>
<text x="566.3" y="457.1" font-size="9">P</text>
<path d="M579.2,451.1 L572.5,454.0 L579.2,456.9" fill="none" stroke="#3a3a3a" stroke-width="0.75"/>
<text x="580.0" y="457.1" font-size="9">0.01</text>
<text x="736.9" y="427.5" font-size="10" text-anchor="middle"><tspan font-size="7.6" dy="-0.6" style="fill:#404040;stroke:none">(</tspan><tspan dx="2.2" dy="0.6">i</tspan><tspan dx="2.2" dy="-0.6" font-size="7.6" style="fill:#404040;stroke:none">)</tspan></text>
</svg></body></html>
